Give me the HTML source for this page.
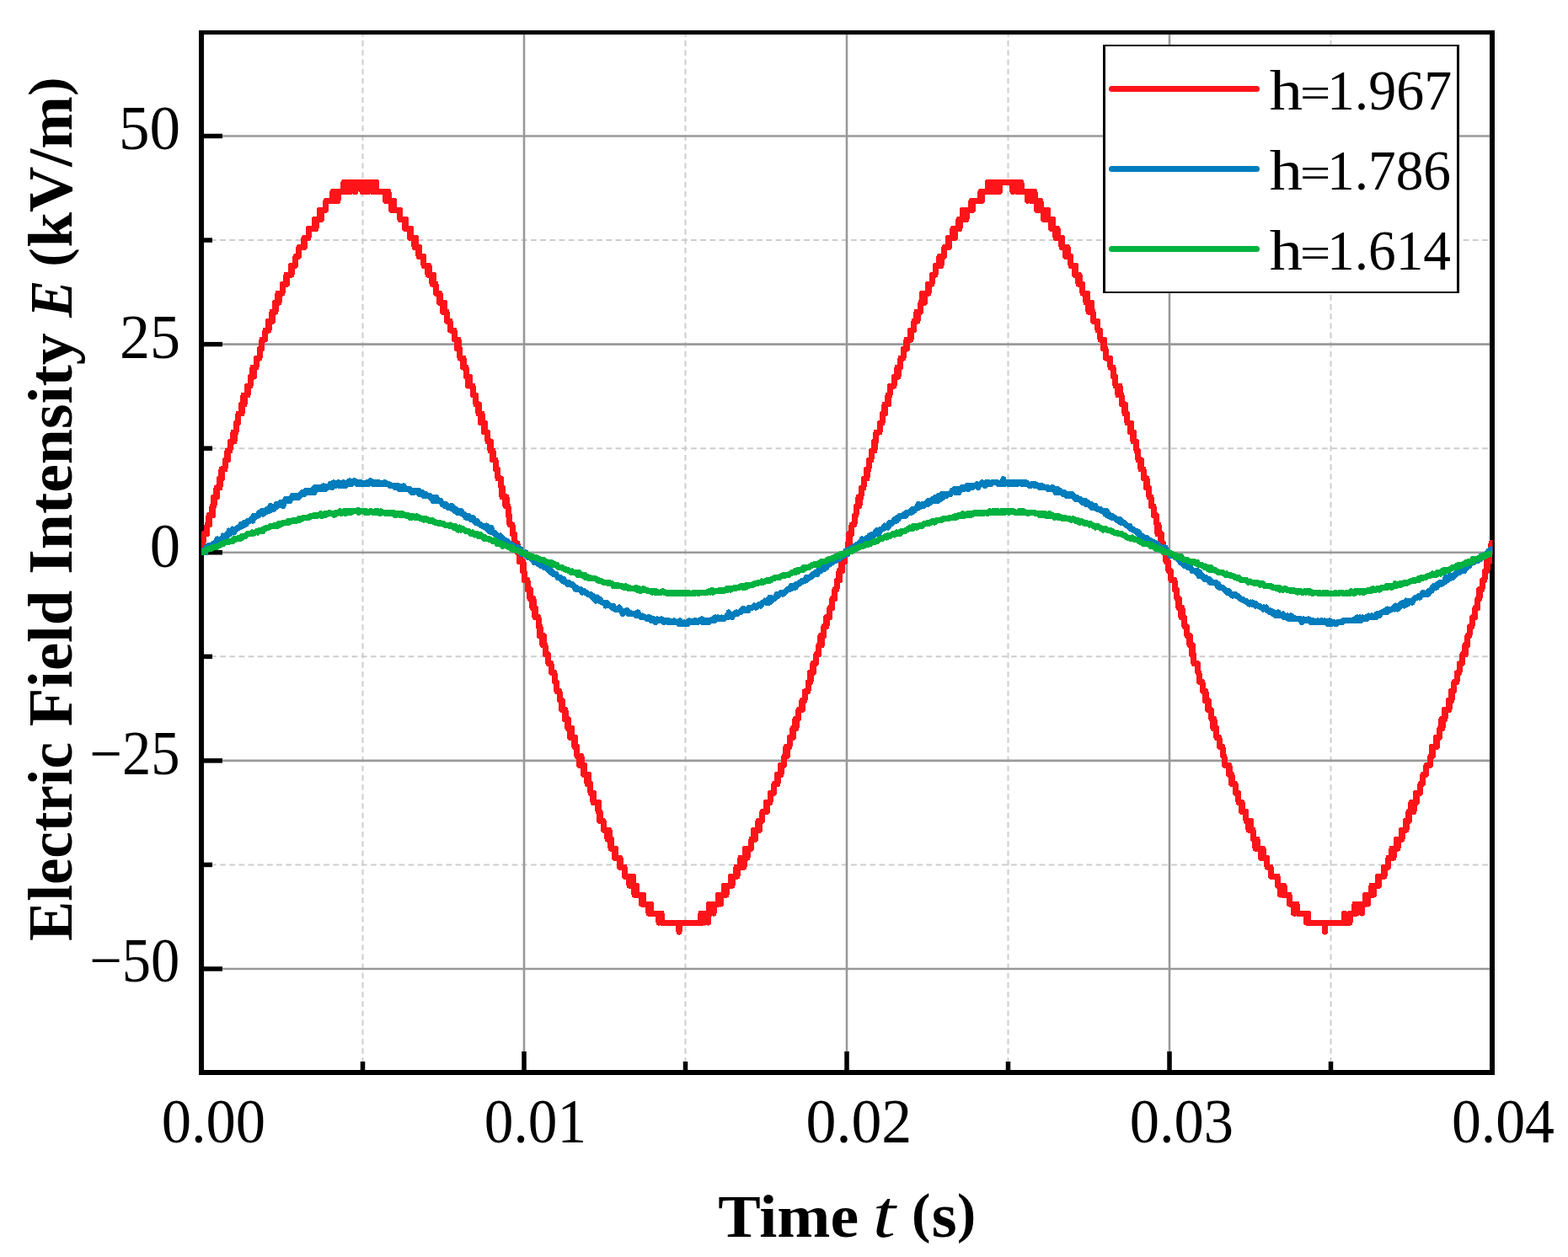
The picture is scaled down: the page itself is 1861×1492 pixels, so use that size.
<!DOCTYPE html><html><head><meta charset="utf-8"><title>Electric Field Intensity vs Time</title><style>html,body{margin:0;padding:0;background:#fff;overflow:hidden}svg{display:block}text{font-family:"Liberation Serif","DejaVu Serif",serif;fill:#000}</style></head><body><svg width="1861" height="1492" viewBox="0 0 1861 1492"><rect x="0" y="0" width="1861" height="1492" fill="#fff"/><g stroke="#cdcdcd" stroke-width="2" stroke-dasharray="6.8 4.378" fill="none"><line x1="430.50" y1="41" x2="430.50" y2="1270" stroke-dashoffset="4.078"/><line x1="813.50" y1="41" x2="813.50" y2="1270" stroke-dashoffset="4.078"/><line x1="1196.50" y1="41" x2="1196.50" y2="1270" stroke-dashoffset="4.078"/><line x1="1579.50" y1="41" x2="1579.50" y2="1270" stroke-dashoffset="4.078"/><line x1="242" y1="285.06" x2="1768" y2="285.06" stroke-dashoffset="3.258"/><line x1="242" y1="532.19" x2="1768" y2="532.19" stroke-dashoffset="3.258"/><line x1="242" y1="779.31" x2="1768" y2="779.31" stroke-dashoffset="3.258"/><line x1="242" y1="1026.44" x2="1768" y2="1026.44" stroke-dashoffset="3.258"/></g><g stroke="#999" stroke-width="2.6" fill="none"><line x1="622.00" y1="41" x2="622.00" y2="1270"/><line x1="1005.00" y1="41" x2="1005.00" y2="1270"/><line x1="1388.00" y1="41" x2="1388.00" y2="1270"/><line x1="242" y1="161.50" x2="1768" y2="161.50"/><line x1="242" y1="408.62" x2="1768" y2="408.62"/><line x1="242" y1="655.75" x2="1768" y2="655.75"/><line x1="242" y1="902.88" x2="1768" y2="902.88"/><line x1="242" y1="1150.00" x2="1768" y2="1150.00"/></g><g fill="#000"><rect x="236" y="36" width="6" height="1240"/><rect x="1768" y="36" width="6" height="1240"/><rect x="236" y="36" width="1538" height="5"/><rect x="236" y="1270" width="1538" height="6"/><rect x="242" y="158.75" width="22" height="5.5"/><rect x="242" y="405.88" width="22" height="5.5"/><rect x="242" y="653.00" width="22" height="5.5"/><rect x="242" y="900.12" width="22" height="5.5"/><rect x="242" y="1147.25" width="22" height="5.5"/><rect x="242" y="282.31" width="10" height="5.5"/><rect x="242" y="529.44" width="10" height="5.5"/><rect x="242" y="776.56" width="10" height="5.5"/><rect x="242" y="1023.69" width="10" height="5.5"/><rect x="619.25" y="1248" width="5.5" height="22"/><rect x="1002.25" y="1248" width="5.5" height="22"/><rect x="1385.25" y="1248" width="5.5" height="22"/><rect x="427.75" y="1260" width="5.5" height="10"/><rect x="810.75" y="1260" width="5.5" height="10"/><rect x="1193.75" y="1260" width="5.5" height="10"/><rect x="1576.75" y="1260" width="5.5" height="10"/></g><defs><clipPath id="pc"><rect x="239.0" y="38.5" width="1532.5" height="1234.5"/></clipPath></defs><g clip-path="url(#pc)" fill="none" stroke-width="7" stroke-linejoin="round" stroke-linecap="butt" shape-rendering="crispEdges"><path d="M237.0,655.8 237.5,655.8 238.0,655.8 238.5,644.8 239.0,644.8 239.5,644.8 240.0,644.8 240.5,644.8 241.0,644.8 241.5,633.8 242.0,633.8 242.5,633.8 243.0,633.8 243.5,633.8 244.0,633.8 244.5,633.8 245.0,633.8 245.5,633.8 246.0,622.8 246.5,622.8 247.0,622.8 247.5,622.8 248.0,611.8 248.5,622.8 249.0,611.8 249.5,611.8 250.0,611.8 250.5,611.8 251.0,611.8 251.5,611.8 252.0,600.8 252.5,611.8 253.0,600.8 253.5,589.9 254.0,600.8 254.5,589.9 255.0,589.9 255.5,589.9 256.0,589.9 256.5,589.9 257.0,578.9 257.5,589.9 258.0,578.9 258.5,578.9 259.0,578.9 259.5,578.9 260.0,578.9 260.5,567.9 261.0,578.9 261.5,567.9 262.0,567.9 262.5,567.9 263.0,556.9 263.5,567.9 264.0,556.9 264.5,556.9 265.0,556.9 265.5,556.9 266.0,556.9 266.5,556.9 267.0,556.9 267.5,545.9 268.0,545.9 268.5,545.9 269.0,545.9 269.5,545.9 270.0,534.9 270.5,545.9 271.0,534.9 271.5,534.9 272.0,534.9 272.5,534.9 273.0,534.9 273.5,524.0 274.0,524.0 274.5,524.0 275.0,524.0 275.5,524.0 276.0,524.0 276.5,524.0 277.0,513.0 277.5,524.0 278.0,524.0 278.5,513.0 279.0,513.0 279.5,513.0 280.0,513.0 280.5,502.0 281.0,502.0 281.5,502.0 282.0,502.0 282.5,502.0 283.0,491.0 283.5,491.0 284.0,491.0 284.5,491.0 285.0,491.0 285.5,491.0 286.0,491.0 286.5,480.0 287.0,491.0 287.5,480.0 288.0,480.0 288.5,480.0 289.0,469.0 289.5,480.0 290.0,480.0 290.5,469.0 291.0,469.0 291.5,469.0 292.0,469.0 292.5,469.0 293.0,469.0 293.5,458.1 294.0,469.0 294.5,458.1 295.0,458.1 295.5,458.1 296.0,458.1 296.5,458.1 297.0,458.1 297.5,447.1 298.0,447.1 298.5,447.1 299.0,447.1 299.5,447.1 300.0,436.1 300.5,436.1 301.0,447.1 301.5,447.1 302.0,436.1 302.5,436.1 303.0,436.1 303.5,436.1 304.0,436.1 304.5,425.1 305.0,425.1 305.5,425.1 306.0,425.1 306.5,425.1 307.0,425.1 307.5,425.1 308.0,425.1 308.5,414.1 309.0,414.1 309.5,414.1 310.0,414.1 310.5,414.1 311.0,403.1 311.5,403.1 312.0,403.1 312.5,403.1 313.0,403.1 313.5,403.1 314.0,403.1 314.5,403.1 315.0,392.1 315.5,392.1 316.0,392.1 316.5,392.1 317.0,392.1 317.5,392.1 318.0,392.1 318.5,381.2 319.0,392.1 319.5,381.2 320.0,381.2 320.5,381.2 321.0,381.2 321.5,381.2 322.0,381.2 322.5,381.2 323.0,370.2 323.5,381.2 324.0,370.2 324.5,370.2 325.0,370.2 325.5,370.2 326.0,370.2 326.5,359.2 327.0,370.2 327.5,359.2 328.0,359.2 328.5,359.2 329.0,359.2 329.5,359.2 330.0,348.2 330.5,359.2 331.0,359.2 331.5,348.2 332.0,348.2 332.5,348.2 333.0,348.2 333.5,348.2 334.0,348.2 334.5,348.2 335.0,348.2 335.5,337.2 336.0,337.2 336.5,337.2 337.0,337.2 337.5,337.2 338.0,337.2 338.5,337.2 339.0,337.2 339.5,337.2 340.0,326.2 340.5,337.2 341.0,326.2 341.5,326.2 342.0,326.2 342.5,326.2 343.0,326.2 343.5,326.2 344.0,326.2 344.5,326.2 345.0,326.2 345.5,315.3 346.0,326.2 346.5,315.3 347.0,315.3 347.5,315.3 348.0,315.3 348.5,315.3 349.0,315.3 349.5,315.3 350.0,315.3 350.5,315.3 351.0,304.3 351.5,304.3 352.0,304.3 352.5,304.3 353.0,304.3 353.5,304.3 354.0,304.3 354.5,304.3 355.0,293.3 355.5,293.3 356.0,293.3 356.5,293.3 357.0,293.3 357.5,293.3 358.0,293.3 358.5,293.3 359.0,293.3 359.5,293.3 360.0,293.3 360.5,293.3 361.0,282.3 361.5,293.3 362.0,282.3 362.5,282.3 363.0,282.3 363.5,282.3 364.0,282.3 364.5,282.3 365.0,282.3 365.5,282.3 366.0,282.3 366.5,271.3 367.0,271.3 367.5,271.3 368.0,271.3 368.5,271.3 369.0,271.3 369.5,271.3 370.0,271.3 370.5,271.3 371.0,271.3 371.5,271.3 372.0,271.3 372.5,271.3 373.0,271.3 373.5,260.4 374.0,271.3 374.5,260.4 375.0,271.3 375.5,260.4 376.0,260.4 376.5,260.4 377.0,260.4 377.5,260.4 378.0,260.4 378.5,260.4 379.0,260.4 379.5,249.4 380.0,249.4 380.5,249.4 381.0,249.4 381.5,260.4 382.0,249.4 382.5,249.4 383.0,249.4 383.5,249.4 384.0,249.4 384.5,249.4 385.0,249.4 385.5,249.4 386.0,249.4 386.5,249.4 387.0,238.4 387.5,238.4 388.0,238.4 388.5,238.4 389.0,238.4 389.5,238.4 390.0,238.4 390.5,238.4 391.0,238.4 391.5,238.4 392.0,238.4 392.5,238.4 393.0,238.4 393.5,238.4 394.0,238.4 394.5,238.4 395.0,227.4 395.5,238.4 396.0,238.4 396.5,238.4 397.0,238.4 397.5,238.4 398.0,227.4 398.5,238.4 399.0,227.4 399.5,238.4 400.0,227.4 400.5,227.4 401.0,238.4 401.5,227.4 402.0,227.4 402.5,227.4 403.0,227.4 403.5,227.4 404.0,227.4 404.5,227.4 405.0,227.4 405.5,227.4 406.0,227.4 406.5,227.4 407.0,227.4 407.5,227.4 408.0,216.4 408.5,227.4 409.0,227.4 409.5,227.4 410.0,227.4 410.5,227.4 411.0,227.4 411.5,227.4 412.0,227.4 412.5,216.4 413.0,216.4 413.5,227.4 414.0,216.4 414.5,216.4 415.0,216.4 415.5,216.4 416.0,227.4 416.5,216.4 417.0,216.4 417.5,216.4 418.0,216.4 418.5,216.4 419.0,216.4 419.5,216.4 420.0,216.4 420.5,227.4 421.0,216.4 421.5,216.4 422.0,227.4 422.5,216.4 423.0,216.4 423.5,216.4 424.0,216.4 424.5,216.4 425.0,216.4 425.5,216.4 426.0,216.4 426.5,216.4 427.0,216.4 427.5,216.4 428.0,216.4 428.5,216.4 429.0,216.4 429.5,216.4 430.0,227.4 430.5,216.4 431.0,216.4 431.5,216.4 432.0,227.4 432.5,216.4 433.0,216.4 433.5,216.4 434.0,216.4 434.5,227.4 435.0,216.4 435.5,216.4 436.0,216.4 436.5,216.4 437.0,227.4 437.5,227.4 438.0,216.4 438.5,216.4 439.0,216.4 439.5,216.4 440.0,216.4 440.5,216.4 441.0,216.4 441.5,227.4 442.0,216.4 442.5,216.4 443.0,227.4 443.5,216.4 444.0,227.4 444.5,227.4 445.0,216.4 445.5,216.4 446.0,227.4 446.5,216.4 447.0,227.4 447.5,227.4 448.0,227.4 448.5,227.4 449.0,227.4 449.5,227.4 450.0,227.4 450.5,227.4 451.0,227.4 451.5,227.4 452.0,227.4 452.5,227.4 453.0,227.4 453.5,227.4 454.0,227.4 454.5,227.4 455.0,227.4 455.5,227.4 456.0,227.4 456.5,227.4 457.0,227.4 457.5,238.4 458.0,238.4 458.5,227.4 459.0,238.4 459.5,238.4 460.0,238.4 460.5,227.4 461.0,227.4 461.5,238.4 462.0,238.4 462.5,238.4 463.0,238.4 463.5,238.4 464.0,238.4 464.5,249.4 465.0,238.4 465.5,238.4 466.0,249.4 466.5,249.4 467.0,238.4 467.5,238.4 468.0,249.4 468.5,249.4 469.0,249.4 469.5,249.4 470.0,249.4 470.5,249.4 471.0,249.4 471.5,249.4 472.0,249.4 472.5,249.4 473.0,249.4 473.5,249.4 474.0,249.4 474.5,249.4 475.0,260.4 475.5,260.4 476.0,260.4 476.5,260.4 477.0,260.4 477.5,260.4 478.0,260.4 478.5,260.4 479.0,260.4 479.5,260.4 480.0,260.4 480.5,271.3 481.0,271.3 481.5,260.4 482.0,271.3 482.5,271.3 483.0,271.3 483.5,271.3 484.0,271.3 484.5,271.3 485.0,271.3 485.5,271.3 486.0,271.3 486.5,282.3 487.0,271.3 487.5,271.3 488.0,282.3 488.5,282.3 489.0,282.3 489.5,282.3 490.0,282.3 490.5,282.3 491.0,282.3 491.5,282.3 492.0,293.3 492.5,282.3 493.0,282.3 493.5,282.3 494.0,293.3 494.5,293.3 495.0,293.3 495.5,293.3 496.0,293.3 496.5,293.3 497.0,304.3 497.5,293.3 498.0,304.3 498.5,304.3 499.0,304.3 499.5,304.3 500.0,304.3 500.5,304.3 501.0,304.3 501.5,304.3 502.0,304.3 502.5,304.3 503.0,315.3 503.5,315.3 504.0,315.3 504.5,315.3 505.0,315.3 505.5,315.3 506.0,315.3 506.5,315.3 507.0,315.3 507.5,315.3 508.0,326.2 508.5,326.2 509.0,315.3 509.5,326.2 510.0,326.2 510.5,326.2 511.0,326.2 511.5,326.2 512.0,326.2 512.5,326.2 513.0,337.2 513.5,337.2 514.0,337.2 514.5,326.2 515.0,337.2 515.5,337.2 516.0,337.2 516.5,337.2 517.0,337.2 517.5,348.2 518.0,348.2 518.5,348.2 519.0,348.2 519.5,348.2 520.0,348.2 520.5,348.2 521.0,348.2 521.5,359.2 522.0,348.2 522.5,359.2 523.0,359.2 523.5,359.2 524.0,359.2 524.5,359.2 525.0,359.2 525.5,370.2 526.0,370.2 526.5,359.2 527.0,370.2 527.5,359.2 528.0,370.2 528.5,370.2 529.0,370.2 529.5,370.2 530.0,370.2 530.5,381.2 531.0,381.2 531.5,381.2 532.0,381.2 532.5,381.2 533.0,381.2 533.5,381.2 534.0,381.2 534.5,392.1 535.0,392.1 535.5,392.1 536.0,392.1 536.5,392.1 537.0,392.1 537.5,392.1 538.0,392.1 538.5,392.1 539.0,392.1 539.5,403.1 540.0,403.1 540.5,403.1 541.0,403.1 541.5,403.1 542.0,403.1 542.5,414.1 543.0,414.1 543.5,414.1 544.0,403.1 544.5,414.1 545.0,414.1 545.5,414.1 546.0,425.1 546.5,425.1 547.0,425.1 547.5,425.1 548.0,425.1 548.5,425.1 549.0,425.1 549.5,436.1 550.0,425.1 550.5,436.1 551.0,436.1 551.5,436.1 552.0,436.1 552.5,436.1 553.0,436.1 553.5,447.1 554.0,447.1 554.5,447.1 555.0,447.1 555.5,458.1 556.0,447.1 556.5,447.1 557.0,447.1 557.5,447.1 558.0,458.1 558.5,458.1 559.0,458.1 559.5,458.1 560.0,458.1 560.5,458.1 561.0,458.1 561.5,469.0 562.0,469.0 562.5,469.0 563.0,469.0 563.5,469.0 564.0,469.0 564.5,469.0 565.0,480.0 565.5,480.0 566.0,480.0 566.5,480.0 567.0,480.0 567.5,480.0 568.0,491.0 568.5,480.0 569.0,491.0 569.5,491.0 570.0,491.0 570.5,502.0 571.0,491.0 571.5,502.0 572.0,491.0 572.5,502.0 573.0,502.0 573.5,502.0 574.0,502.0 574.5,513.0 575.0,502.0 575.5,502.0 576.0,513.0 576.5,513.0 577.0,513.0 577.5,513.0 578.0,513.0 578.5,513.0 579.0,524.0 579.5,524.0 580.0,524.0 580.5,524.0 581.0,524.0 581.5,524.0 582.0,534.9 582.5,524.0 583.0,534.9 583.5,534.9 584.0,534.9 584.5,545.9 585.0,534.9 585.5,545.9 586.0,545.9 586.5,545.9 587.0,545.9 587.5,545.9 588.0,545.9 588.5,556.9 589.0,556.9 589.5,556.9 590.0,556.9 590.5,556.9 591.0,567.9 591.5,567.9 592.0,567.9 592.5,567.9 593.0,567.9 593.5,567.9 594.0,567.9 594.5,567.9 595.0,578.9 595.5,578.9 596.0,589.9 596.5,578.9 597.0,589.9 597.5,589.9 598.0,589.9 598.5,589.9 599.0,589.9 599.5,589.9 600.0,600.8 600.5,600.8 601.0,589.9 601.5,600.8 602.0,600.8 602.5,600.8 603.0,600.8 603.5,611.8 604.0,611.8 604.5,611.8 605.0,622.8 605.5,622.8 606.0,622.8 606.5,622.8 607.0,622.8 607.5,622.8 608.0,622.8 608.5,633.8 609.0,633.8 609.5,633.8 610.0,633.8 610.5,633.8 611.0,644.8 611.5,644.8 612.0,644.8 612.5,644.8 613.0,644.8 613.5,644.8 614.0,644.8 614.5,655.8 615.0,655.8 615.5,655.8 616.0,655.8 616.5,666.7 617.0,655.8 617.5,655.8 618.0,666.7 618.5,666.7 619.0,666.7 619.5,666.7 620.0,666.7 620.5,677.7 621.0,666.7 621.5,677.7 622.0,677.7 622.5,688.7 623.0,688.7 623.5,688.7 624.0,688.7 624.5,688.7 625.0,688.7 625.5,688.7 626.0,688.7 626.5,699.7 627.0,699.7 627.5,699.7 628.0,699.7 628.5,699.7 629.0,710.7 629.5,699.7 630.0,710.7 630.5,710.7 631.0,710.7 631.5,710.7 632.0,721.6 632.5,721.6 633.0,710.7 633.5,721.6 634.0,721.6 634.5,721.6 635.0,732.6 635.5,721.6 636.0,732.6 636.5,732.6 637.0,732.6 637.5,732.6 638.0,732.6 638.5,732.6 639.0,732.6 639.5,743.6 640.0,743.6 640.5,754.6 641.0,743.6 641.5,754.6 642.0,754.6 642.5,754.6 643.0,754.6 643.5,754.6 644.0,765.6 644.5,754.6 645.0,765.6 645.5,754.6 646.0,765.6 646.5,765.6 647.0,765.6 647.5,776.6 648.0,776.6 648.5,776.6 649.0,776.6 649.5,776.6 650.0,776.6 650.5,776.6 651.0,787.5 651.5,787.5 652.0,787.5 652.5,787.5 653.0,787.5 653.5,787.5 654.0,787.5 654.5,798.5 655.0,798.5 655.5,798.5 656.0,798.5 656.5,798.5 657.0,798.5 657.5,798.5 658.0,798.5 658.5,809.5 659.0,809.5 659.5,809.5 660.0,809.5 660.5,809.5 661.0,820.5 661.5,820.5 662.0,820.5 662.5,820.5 663.0,820.5 663.5,820.5 664.0,820.5 664.5,831.5 665.0,831.5 665.5,831.5 666.0,831.5 666.5,842.5 667.0,842.5 667.5,831.5 668.0,842.5 668.5,842.5 669.0,842.5 669.5,842.5 670.0,842.5 670.5,853.5 671.0,842.5 671.5,853.5 672.0,853.5 672.5,853.5 673.0,853.5 673.5,853.5 674.0,864.4 674.5,853.5 675.0,864.4 675.5,864.4 676.0,864.4 676.5,875.4 677.0,864.4 677.5,864.4 678.0,875.4 678.5,864.4 679.0,875.4 679.5,875.4 680.0,875.4 680.5,875.4 681.0,875.4 681.5,875.4 682.0,886.4 682.5,875.4 683.0,886.4 683.5,886.4 684.0,886.4 684.5,886.4 685.0,897.4 685.5,897.4 686.0,897.4 686.5,897.4 687.0,897.4 687.5,908.4 688.0,897.4 688.5,897.4 689.0,908.4 689.5,897.4 690.0,897.4 690.5,908.4 691.0,908.4 691.5,908.4 692.0,908.4 692.5,919.4 693.0,919.4 693.5,908.4 694.0,919.4 694.5,919.4 695.0,919.4 695.5,919.4 696.0,919.4 696.5,919.4 697.0,930.3 697.5,930.3 698.0,930.3 698.5,919.4 699.0,930.3 699.5,930.3 700.0,930.3 700.5,930.3 701.0,941.3 701.5,941.3 702.0,941.3 702.5,941.3 703.0,941.3 703.5,941.3 704.0,952.3 704.5,941.3 705.0,952.3 705.5,952.3 706.0,952.3 706.5,952.3 707.0,952.3 707.5,952.3 708.0,952.3 708.5,952.3 709.0,952.3 709.5,952.3 710.0,963.3 710.5,952.3 711.0,963.3 711.5,974.3 712.0,963.3 712.5,974.3 713.0,974.3 713.5,974.3 714.0,974.3 714.5,974.3 715.0,974.3 715.5,974.3 716.0,974.3 716.5,985.2 717.0,985.2 717.5,985.2 718.0,985.2 718.5,985.2 719.0,985.2 719.5,985.2 720.0,985.2 720.5,985.2 721.0,996.2 721.5,985.2 722.0,996.2 722.5,996.2 723.0,985.2 723.5,996.2 724.0,996.2 724.5,996.2 725.0,1007.2 725.5,996.2 726.0,1007.2 726.5,1007.2 727.0,1007.2 727.5,1007.2 728.0,1007.2 728.5,1007.2 729.0,1007.2 729.5,1018.2 730.0,1018.2 730.5,1007.2 731.0,1018.2 731.5,1018.2 732.0,1018.2 732.5,1018.2 733.0,1018.2 733.5,1018.2 734.0,1018.2 734.5,1018.2 735.0,1018.2 735.5,1029.2 736.0,1018.2 736.5,1029.2 737.0,1029.2 737.5,1029.2 738.0,1029.2 738.5,1029.2 739.0,1029.2 739.5,1029.2 740.0,1029.2 740.5,1029.2 741.0,1029.2 741.5,1040.2 742.0,1040.2 742.5,1040.2 743.0,1040.2 743.5,1040.2 744.0,1040.2 744.5,1040.2 745.0,1040.2 745.5,1040.2 746.0,1040.2 746.5,1040.2 747.0,1051.2 747.5,1040.2 748.0,1051.2 748.5,1040.2 749.0,1040.2 749.5,1051.2 750.0,1051.2 750.5,1051.2 751.0,1051.2 751.5,1040.2 752.0,1051.2 752.5,1051.2 753.0,1062.1 753.5,1051.2 754.0,1062.1 754.5,1051.2 755.0,1062.1 755.5,1051.2 756.0,1062.1 756.5,1062.1 757.0,1062.1 757.5,1062.1 758.0,1062.1 758.5,1062.1 759.0,1062.1 759.5,1062.1 760.0,1062.1 760.5,1062.1 761.0,1062.1 761.5,1073.1 762.0,1062.1 762.5,1062.1 763.0,1073.1 763.5,1062.1 764.0,1073.1 764.5,1073.1 765.0,1073.1 765.5,1073.1 766.0,1073.1 766.5,1073.1 767.0,1073.1 767.5,1073.1 768.0,1073.1 768.5,1073.1 769.0,1073.1 769.5,1073.1 770.0,1084.1 770.5,1084.1 771.0,1084.1 771.5,1084.1 772.0,1073.1 772.5,1073.1 773.0,1084.1 773.5,1084.1 774.0,1084.1 774.5,1084.1 775.0,1084.1 775.5,1084.1 776.0,1084.1 776.5,1084.1 777.0,1084.1 777.5,1084.1 778.0,1084.1 778.5,1084.1 779.0,1084.1 779.5,1084.1 780.0,1084.1 780.5,1084.1 781.0,1084.1 781.5,1084.1 782.0,1095.1 782.5,1084.1 783.0,1084.1 783.5,1084.1 784.0,1084.1 784.5,1095.1 785.0,1084.1 785.5,1095.1 786.0,1095.1 786.5,1095.1 787.0,1095.1 787.5,1095.1 788.0,1095.1 788.5,1095.1 789.0,1095.1 789.5,1095.1 790.0,1095.1 790.5,1095.1 791.0,1095.1 791.5,1095.1 792.0,1095.1 792.5,1095.1 793.0,1095.1 793.5,1095.1 794.0,1095.1 794.5,1095.1 795.0,1095.1 795.5,1095.1 796.0,1095.1 796.5,1095.1 797.0,1095.1 797.5,1095.1 798.0,1095.1 798.5,1095.1 799.0,1095.1 799.5,1095.1 800.0,1095.1 800.5,1095.1 801.0,1095.1 801.5,1095.1 802.0,1095.1 802.5,1095.1 803.0,1095.1 803.5,1095.1 804.0,1095.1 804.5,1095.1 805.0,1095.1 805.5,1095.1 806.0,1106.1 806.5,1095.1 807.0,1095.1 807.5,1095.1 808.0,1095.1 808.5,1095.1 809.0,1095.1 809.5,1095.1 810.0,1095.1 810.5,1095.1 811.0,1095.1 811.5,1095.1 812.0,1095.1 812.5,1095.1 813.0,1095.1 813.5,1095.1 814.0,1095.1 814.5,1095.1 815.0,1095.1 815.5,1095.1 816.0,1095.1 816.5,1095.1 817.0,1095.1 817.5,1095.1 818.0,1095.1 818.5,1095.1 819.0,1095.1 819.5,1095.1 820.0,1095.1 820.5,1095.1 821.0,1095.1 821.5,1095.1 822.0,1095.1 822.5,1095.1 823.0,1095.1 823.5,1095.1 824.0,1095.1 824.5,1095.1 825.0,1095.1 825.5,1095.1 826.0,1095.1 826.5,1095.1 827.0,1095.1 827.5,1095.1 828.0,1095.1 828.5,1095.1 829.0,1095.1 829.5,1095.1 830.0,1095.1 830.5,1095.1 831.0,1095.1 831.5,1095.1 832.0,1084.1 832.5,1084.1 833.0,1095.1 833.5,1084.1 834.0,1095.1 834.5,1095.1 835.0,1084.1 835.5,1084.1 836.0,1084.1 836.5,1095.1 837.0,1084.1 837.5,1084.1 838.0,1084.1 838.5,1084.1 839.0,1084.1 839.5,1084.1 840.0,1084.1 840.5,1095.1 841.0,1084.1 841.5,1073.1 842.0,1084.1 842.5,1084.1 843.0,1084.1 843.5,1084.1 844.0,1084.1 844.5,1084.1 845.0,1073.1 845.5,1073.1 846.0,1073.1 846.5,1084.1 847.0,1084.1 847.5,1073.1 848.0,1073.1 848.5,1073.1 849.0,1073.1 849.5,1073.1 850.0,1073.1 850.5,1073.1 851.0,1073.1 851.5,1073.1 852.0,1073.1 852.5,1062.1 853.0,1062.1 853.5,1073.1 854.0,1062.1 854.5,1062.1 855.0,1062.1 855.5,1073.1 856.0,1062.1 856.5,1062.1 857.0,1062.1 857.5,1062.1 858.0,1062.1 858.5,1062.1 859.0,1062.1 859.5,1051.2 860.0,1062.1 860.5,1062.1 861.0,1051.2 861.5,1051.2 862.0,1062.1 862.5,1051.2 863.0,1051.2 863.5,1051.2 864.0,1051.2 864.5,1051.2 865.0,1051.2 865.5,1051.2 866.0,1051.2 866.5,1051.2 867.0,1051.2 867.5,1040.2 868.0,1051.2 868.5,1040.2 869.0,1051.2 869.5,1040.2 870.0,1040.2 870.5,1040.2 871.0,1040.2 871.5,1040.2 872.0,1040.2 872.5,1040.2 873.0,1040.2 873.5,1040.2 874.0,1029.2 874.5,1040.2 875.0,1040.2 875.5,1029.2 876.0,1029.2 876.5,1029.2 877.0,1029.2 877.5,1029.2 878.0,1029.2 878.5,1029.2 879.0,1018.2 879.5,1029.2 880.0,1029.2 880.5,1029.2 881.0,1018.2 881.5,1018.2 882.0,1018.2 882.5,1018.2 883.0,1029.2 883.5,1018.2 884.0,1018.2 884.5,1007.2 885.0,1007.2 885.5,1007.2 886.0,1018.2 886.5,1007.2 887.0,1018.2 887.5,1007.2 888.0,1007.2 888.5,1007.2 889.0,1007.2 889.5,1007.2 890.0,1007.2 890.5,1007.2 891.0,1007.2 891.5,1007.2 892.0,996.2 892.5,996.2 893.0,996.2 893.5,996.2 894.0,996.2 894.5,985.2 895.0,996.2 895.5,996.2 896.0,985.2 896.5,996.2 897.0,985.2 897.5,985.2 898.0,985.2 898.5,985.2 899.0,985.2 899.5,985.2 900.0,974.3 900.5,974.3 901.0,985.2 901.5,985.2 902.0,974.3 902.5,974.3 903.0,974.3 903.5,974.3 904.0,974.3 904.5,974.3 905.0,963.3 905.5,963.3 906.0,963.3 906.5,963.3 907.0,963.3 907.5,963.3 908.0,963.3 908.5,963.3 909.0,963.3 909.5,952.3 910.0,963.3 910.5,963.3 911.0,952.3 911.5,952.3 912.0,952.3 912.5,952.3 913.0,952.3 913.5,952.3 914.0,952.3 914.5,941.3 915.0,941.3 915.5,941.3 916.0,941.3 916.5,941.3 917.0,941.3 917.5,941.3 918.0,941.3 918.5,941.3 919.0,930.3 919.5,930.3 920.0,930.3 920.5,930.3 921.0,930.3 921.5,930.3 922.0,930.3 922.5,919.4 923.0,930.3 923.5,919.4 924.0,919.4 924.5,919.4 925.0,919.4 925.5,919.4 926.0,919.4 926.5,908.4 927.0,919.4 927.5,908.4 928.0,908.4 928.5,908.4 929.0,908.4 929.5,908.4 930.0,908.4 930.5,908.4 931.0,897.4 931.5,897.4 932.0,897.4 932.5,897.4 933.0,886.4 933.5,886.4 934.0,897.4 934.5,897.4 935.0,886.4 935.5,886.4 936.0,886.4 936.5,886.4 937.0,886.4 937.5,875.4 938.0,875.4 938.5,875.4 939.0,875.4 939.5,875.4 940.0,875.4 940.5,875.4 941.0,864.4 941.5,875.4 942.0,864.4 942.5,864.4 943.0,864.4 943.5,864.4 944.0,853.5 944.5,864.4 945.0,864.4 945.5,853.5 946.0,853.5 946.5,853.5 947.0,853.5 947.5,853.5 948.0,842.5 948.5,842.5 949.0,842.5 949.5,842.5 950.0,842.5 950.5,842.5 951.0,842.5 951.5,842.5 952.0,831.5 952.5,842.5 953.0,831.5 953.5,831.5 954.0,831.5 954.5,831.5 955.0,831.5 955.5,820.5 956.0,820.5 956.5,820.5 957.0,820.5 957.5,820.5 958.0,820.5 958.5,820.5 959.0,820.5 959.5,809.5 960.0,809.5 960.5,809.5 961.0,809.5 961.5,798.5 962.0,809.5 962.5,798.5 963.0,798.5 963.5,798.5 964.0,798.5 964.5,798.5 965.0,787.5 965.5,798.5 966.0,787.5 966.5,787.5 967.0,787.5 967.5,787.5 968.0,787.5 968.5,787.5 969.0,776.6 969.5,776.6 970.0,776.6 970.5,776.6 971.0,776.6 971.5,776.6 972.0,765.6 972.5,765.6 973.0,765.6 973.5,765.6 974.0,754.6 974.5,765.6 975.0,754.6 975.5,765.6 976.0,754.6 976.5,754.6 977.0,754.6 977.5,754.6 978.0,743.6 978.5,743.6 979.0,743.6 979.5,743.6 980.0,743.6 980.5,732.6 981.0,743.6 981.5,732.6 982.0,732.6 982.5,732.6 983.0,732.6 983.5,732.6 984.0,732.6 984.5,732.6 985.0,721.6 985.5,721.6 986.0,721.6 986.5,721.6 987.0,721.6 987.5,721.6 988.0,710.7 988.5,710.7 989.0,710.7 989.5,710.7 990.0,710.7 990.5,710.7 991.0,699.7 991.5,699.7 992.0,699.7 992.5,699.7 993.0,699.7 993.5,688.7 994.0,688.7 994.5,688.7 995.0,688.7 995.5,688.7 996.0,677.7 996.5,688.7 997.0,677.7 997.5,677.7 998.0,677.7 998.5,677.7 999.0,666.7 999.5,677.7 1000.0,666.7 1000.5,666.7 1001.0,666.7 1001.5,666.7 1002.0,666.7 1002.5,666.7 1003.0,655.8 1003.5,655.8 1004.0,655.8 1004.5,655.8 1005.0,655.8 1005.5,655.8 1006.0,655.8 1006.5,644.8 1007.0,644.8 1007.5,633.8 1008.0,633.8 1008.5,644.8 1009.0,633.8 1009.5,633.8 1010.0,633.8 1010.5,633.8 1011.0,622.8 1011.5,622.8 1012.0,622.8 1012.5,622.8 1013.0,622.8 1013.5,622.8 1014.0,622.8 1014.5,611.8 1015.0,611.8 1015.5,611.8 1016.0,611.8 1016.5,600.8 1017.0,600.8 1017.5,600.8 1018.0,600.8 1018.5,600.8 1019.0,589.9 1019.5,589.9 1020.0,600.8 1020.5,589.9 1021.0,589.9 1021.5,589.9 1022.0,589.9 1022.5,578.9 1023.0,578.9 1023.5,578.9 1024.0,578.9 1024.5,578.9 1025.0,578.9 1025.5,567.9 1026.0,567.9 1026.5,567.9 1027.0,567.9 1027.5,567.9 1028.0,567.9 1028.5,556.9 1029.0,567.9 1029.5,556.9 1030.0,556.9 1030.5,556.9 1031.0,556.9 1031.5,545.9 1032.0,545.9 1032.5,545.9 1033.0,545.9 1033.5,545.9 1034.0,545.9 1034.5,534.9 1035.0,534.9 1035.5,534.9 1036.0,534.9 1036.5,534.9 1037.0,534.9 1037.5,524.0 1038.0,534.9 1038.5,524.0 1039.0,524.0 1039.5,524.0 1040.0,513.0 1040.5,513.0 1041.0,513.0 1041.5,513.0 1042.0,513.0 1042.5,513.0 1043.0,513.0 1043.5,513.0 1044.0,513.0 1044.5,502.0 1045.0,502.0 1045.5,502.0 1046.0,502.0 1046.5,502.0 1047.0,502.0 1047.5,491.0 1048.0,491.0 1048.5,491.0 1049.0,491.0 1049.5,491.0 1050.0,480.0 1050.5,491.0 1051.0,480.0 1051.5,480.0 1052.0,480.0 1052.5,480.0 1053.0,480.0 1053.5,480.0 1054.0,469.0 1054.5,480.0 1055.0,469.0 1055.5,469.0 1056.0,469.0 1056.5,458.1 1057.0,458.1 1057.5,458.1 1058.0,458.1 1058.5,458.1 1059.0,458.1 1059.5,458.1 1060.0,458.1 1060.5,458.1 1061.0,458.1 1061.5,447.1 1062.0,447.1 1062.5,447.1 1063.0,447.1 1063.5,447.1 1064.0,447.1 1064.5,447.1 1065.0,436.1 1065.5,447.1 1066.0,447.1 1066.5,436.1 1067.0,436.1 1067.5,436.1 1068.0,436.1 1068.5,436.1 1069.0,425.1 1069.5,425.1 1070.0,425.1 1070.5,425.1 1071.0,425.1 1071.5,425.1 1072.0,425.1 1072.5,414.1 1073.0,414.1 1073.5,414.1 1074.0,414.1 1074.5,414.1 1075.0,414.1 1075.5,414.1 1076.0,403.1 1076.5,414.1 1077.0,403.1 1077.5,403.1 1078.0,403.1 1078.5,403.1 1079.0,403.1 1079.5,403.1 1080.0,403.1 1080.5,392.1 1081.0,403.1 1081.5,392.1 1082.0,392.1 1082.5,392.1 1083.0,392.1 1083.5,392.1 1084.0,392.1 1084.5,392.1 1085.0,381.2 1085.5,381.2 1086.0,381.2 1086.5,381.2 1087.0,381.2 1087.5,381.2 1088.0,370.2 1088.5,370.2 1089.0,381.2 1089.5,370.2 1090.0,370.2 1090.5,370.2 1091.0,370.2 1091.5,370.2 1092.0,370.2 1092.5,370.2 1093.0,359.2 1093.5,359.2 1094.0,359.2 1094.5,348.2 1095.0,359.2 1095.5,359.2 1096.0,359.2 1096.5,348.2 1097.0,348.2 1097.5,359.2 1098.0,348.2 1098.5,348.2 1099.0,348.2 1099.5,348.2 1100.0,348.2 1100.5,348.2 1101.0,348.2 1101.5,337.2 1102.0,348.2 1102.5,337.2 1103.0,337.2 1103.5,337.2 1104.0,337.2 1104.5,337.2 1105.0,337.2 1105.5,337.2 1106.0,337.2 1106.5,326.2 1107.0,326.2 1107.5,326.2 1108.0,326.2 1108.5,326.2 1109.0,326.2 1109.5,326.2 1110.0,326.2 1110.5,315.3 1111.0,315.3 1111.5,315.3 1112.0,315.3 1112.5,315.3 1113.0,315.3 1113.5,315.3 1114.0,315.3 1114.5,315.3 1115.0,304.3 1115.5,315.3 1116.0,315.3 1116.5,304.3 1117.0,315.3 1117.5,304.3 1118.0,304.3 1118.5,304.3 1119.0,304.3 1119.5,304.3 1120.0,304.3 1120.5,304.3 1121.0,293.3 1121.5,293.3 1122.0,293.3 1122.5,293.3 1123.0,293.3 1123.5,293.3 1124.0,293.3 1124.5,293.3 1125.0,293.3 1125.5,282.3 1126.0,293.3 1126.5,293.3 1127.0,282.3 1127.5,282.3 1128.0,282.3 1128.5,282.3 1129.0,282.3 1129.5,282.3 1130.0,282.3 1130.5,282.3 1131.0,271.3 1131.5,282.3 1132.0,282.3 1132.5,271.3 1133.0,271.3 1133.5,282.3 1134.0,271.3 1134.5,271.3 1135.0,271.3 1135.5,271.3 1136.0,271.3 1136.5,271.3 1137.0,271.3 1137.5,271.3 1138.0,260.4 1138.5,260.4 1139.0,271.3 1139.5,260.4 1140.0,260.4 1140.5,260.4 1141.0,260.4 1141.5,260.4 1142.0,260.4 1142.5,249.4 1143.0,249.4 1143.5,260.4 1144.0,260.4 1144.5,260.4 1145.0,249.4 1145.5,249.4 1146.0,249.4 1146.5,249.4 1147.0,260.4 1147.5,249.4 1148.0,249.4 1148.5,249.4 1149.0,249.4 1149.5,249.4 1150.0,249.4 1150.5,249.4 1151.0,249.4 1151.5,249.4 1152.0,249.4 1152.5,249.4 1153.0,238.4 1153.5,238.4 1154.0,238.4 1154.5,249.4 1155.0,238.4 1155.5,238.4 1156.0,238.4 1156.5,238.4 1157.0,238.4 1157.5,238.4 1158.0,238.4 1158.5,238.4 1159.0,238.4 1159.5,238.4 1160.0,238.4 1160.5,238.4 1161.0,238.4 1161.5,238.4 1162.0,238.4 1162.5,238.4 1163.0,238.4 1163.5,238.4 1164.0,227.4 1164.5,227.4 1165.0,227.4 1165.5,238.4 1166.0,227.4 1166.5,227.4 1167.0,227.4 1167.5,227.4 1168.0,227.4 1168.5,227.4 1169.0,227.4 1169.5,227.4 1170.0,227.4 1170.5,227.4 1171.0,227.4 1171.5,227.4 1172.0,227.4 1172.5,216.4 1173.0,227.4 1173.5,227.4 1174.0,216.4 1174.5,216.4 1175.0,216.4 1175.5,227.4 1176.0,227.4 1176.5,227.4 1177.0,227.4 1177.5,216.4 1178.0,227.4 1178.5,227.4 1179.0,216.4 1179.5,227.4 1180.0,216.4 1180.5,227.4 1181.0,216.4 1181.5,216.4 1182.0,216.4 1182.5,216.4 1183.0,216.4 1183.5,216.4 1184.0,227.4 1184.5,216.4 1185.0,216.4 1185.5,216.4 1186.0,216.4 1186.5,227.4 1187.0,216.4 1187.5,216.4 1188.0,216.4 1188.5,216.4 1189.0,216.4 1189.5,216.4 1190.0,216.4 1190.5,216.4 1191.0,216.4 1191.5,216.4 1192.0,216.4 1192.5,216.4 1193.0,216.4 1193.5,216.4 1194.0,216.4 1194.5,216.4 1195.0,216.4 1195.5,216.4 1196.0,216.4 1196.5,216.4 1197.0,216.4 1197.5,216.4 1198.0,216.4 1198.5,216.4 1199.0,216.4 1199.5,216.4 1200.0,216.4 1200.5,216.4 1201.0,216.4 1201.5,216.4 1202.0,227.4 1202.5,216.4 1203.0,216.4 1203.5,216.4 1204.0,216.4 1204.5,216.4 1205.0,216.4 1205.5,216.4 1206.0,216.4 1206.5,216.4 1207.0,227.4 1207.5,227.4 1208.0,227.4 1208.5,216.4 1209.0,216.4 1209.5,216.4 1210.0,216.4 1210.5,227.4 1211.0,216.4 1211.5,227.4 1212.0,216.4 1212.5,227.4 1213.0,227.4 1213.5,227.4 1214.0,227.4 1214.5,227.4 1215.0,227.4 1215.5,227.4 1216.0,227.4 1216.5,227.4 1217.0,227.4 1217.5,227.4 1218.0,227.4 1218.5,227.4 1219.0,227.4 1219.5,238.4 1220.0,227.4 1220.5,227.4 1221.0,227.4 1221.5,227.4 1222.0,227.4 1222.5,227.4 1223.0,227.4 1223.5,238.4 1224.0,238.4 1224.5,227.4 1225.0,227.4 1225.5,238.4 1226.0,238.4 1226.5,238.4 1227.0,227.4 1227.5,238.4 1228.0,227.4 1228.5,238.4 1229.0,238.4 1229.5,238.4 1230.0,238.4 1230.5,249.4 1231.0,249.4 1231.5,238.4 1232.0,238.4 1232.5,238.4 1233.0,238.4 1233.5,238.4 1234.0,249.4 1234.5,249.4 1235.0,238.4 1235.5,249.4 1236.0,249.4 1236.5,249.4 1237.0,249.4 1237.5,249.4 1238.0,249.4 1238.5,260.4 1239.0,249.4 1239.5,260.4 1240.0,249.4 1240.5,260.4 1241.0,260.4 1241.5,249.4 1242.0,249.4 1242.5,249.4 1243.0,260.4 1243.5,249.4 1244.0,260.4 1244.5,260.4 1245.0,260.4 1245.5,260.4 1246.0,260.4 1246.5,260.4 1247.0,260.4 1247.5,271.3 1248.0,271.3 1248.5,271.3 1249.0,271.3 1249.5,260.4 1250.0,271.3 1250.5,271.3 1251.0,271.3 1251.5,271.3 1252.0,271.3 1252.5,271.3 1253.0,282.3 1253.5,271.3 1254.0,282.3 1254.5,271.3 1255.0,271.3 1255.5,282.3 1256.0,282.3 1256.5,282.3 1257.0,282.3 1257.5,282.3 1258.0,282.3 1258.5,282.3 1259.0,282.3 1259.5,282.3 1260.0,293.3 1260.5,282.3 1261.0,293.3 1261.5,293.3 1262.0,293.3 1262.5,293.3 1263.0,293.3 1263.5,293.3 1264.0,293.3 1264.5,304.3 1265.0,293.3 1265.5,304.3 1266.0,304.3 1266.5,304.3 1267.0,293.3 1267.5,304.3 1268.0,304.3 1268.5,304.3 1269.0,304.3 1269.5,304.3 1270.0,304.3 1270.5,304.3 1271.0,315.3 1271.5,315.3 1272.0,315.3 1272.5,315.3 1273.0,315.3 1273.5,315.3 1274.0,315.3 1274.5,315.3 1275.0,315.3 1275.5,326.2 1276.0,326.2 1276.5,315.3 1277.0,326.2 1277.5,326.2 1278.0,326.2 1278.5,326.2 1279.0,326.2 1279.5,326.2 1280.0,337.2 1280.5,337.2 1281.0,326.2 1281.5,337.2 1282.0,337.2 1282.5,337.2 1283.0,337.2 1283.5,337.2 1284.0,337.2 1284.5,337.2 1285.0,348.2 1285.5,348.2 1286.0,348.2 1286.5,348.2 1287.0,348.2 1287.5,348.2 1288.0,348.2 1288.5,348.2 1289.0,359.2 1289.5,359.2 1290.0,359.2 1290.5,348.2 1291.0,359.2 1291.5,359.2 1292.0,370.2 1292.5,359.2 1293.0,359.2 1293.5,359.2 1294.0,370.2 1294.5,370.2 1295.0,370.2 1295.5,359.2 1296.0,370.2 1296.5,370.2 1297.0,370.2 1297.5,381.2 1298.0,381.2 1298.5,381.2 1299.0,381.2 1299.5,381.2 1300.0,381.2 1300.5,381.2 1301.0,381.2 1301.5,381.2 1302.0,381.2 1302.5,381.2 1303.0,392.1 1303.5,392.1 1304.0,392.1 1304.5,392.1 1305.0,392.1 1305.5,392.1 1306.0,403.1 1306.5,403.1 1307.0,403.1 1307.5,403.1 1308.0,403.1 1308.5,403.1 1309.0,403.1 1309.5,414.1 1310.0,403.1 1310.5,403.1 1311.0,414.1 1311.5,414.1 1312.0,414.1 1312.5,425.1 1313.0,425.1 1313.5,425.1 1314.0,425.1 1314.5,425.1 1315.0,425.1 1315.5,425.1 1316.0,425.1 1316.5,425.1 1317.0,425.1 1317.5,425.1 1318.0,436.1 1318.5,436.1 1319.0,436.1 1319.5,436.1 1320.0,436.1 1320.5,436.1 1321.0,436.1 1321.5,447.1 1322.0,447.1 1322.5,447.1 1323.0,447.1 1323.5,447.1 1324.0,458.1 1324.5,458.1 1325.0,458.1 1325.5,458.1 1326.0,458.1 1326.5,458.1 1327.0,469.0 1327.5,458.1 1328.0,469.0 1328.5,469.0 1329.0,458.1 1329.5,469.0 1330.0,469.0 1330.5,469.0 1331.0,469.0 1331.5,480.0 1332.0,480.0 1332.5,480.0 1333.0,480.0 1333.5,480.0 1334.0,480.0 1334.5,480.0 1335.0,491.0 1335.5,480.0 1336.0,491.0 1336.5,491.0 1337.0,491.0 1337.5,491.0 1338.0,502.0 1338.5,502.0 1339.0,502.0 1339.5,502.0 1340.0,502.0 1340.5,502.0 1341.0,502.0 1341.5,513.0 1342.0,502.0 1342.5,502.0 1343.0,513.0 1343.5,513.0 1344.0,513.0 1344.5,513.0 1345.0,524.0 1345.5,513.0 1346.0,524.0 1346.5,524.0 1347.0,524.0 1347.5,524.0 1348.0,524.0 1348.5,524.0 1349.0,534.9 1349.5,534.9 1350.0,534.9 1350.5,534.9 1351.0,545.9 1351.5,545.9 1352.0,545.9 1352.5,545.9 1353.0,545.9 1353.5,545.9 1354.0,556.9 1354.5,545.9 1355.0,556.9 1355.5,556.9 1356.0,556.9 1356.5,556.9 1357.0,556.9 1357.5,567.9 1358.0,567.9 1358.5,567.9 1359.0,567.9 1359.5,567.9 1360.0,567.9 1360.5,578.9 1361.0,567.9 1361.5,578.9 1362.0,578.9 1362.5,578.9 1363.0,578.9 1363.5,578.9 1364.0,589.9 1364.5,589.9 1365.0,589.9 1365.5,589.9 1366.0,589.9 1366.5,600.8 1367.0,600.8 1367.5,600.8 1368.0,600.8 1368.5,600.8 1369.0,600.8 1369.5,611.8 1370.0,611.8 1370.5,611.8 1371.0,611.8 1371.5,611.8 1372.0,611.8 1372.5,611.8 1373.0,622.8 1373.5,622.8 1374.0,633.8 1374.5,622.8 1375.0,622.8 1375.5,633.8 1376.0,633.8 1376.5,633.8 1377.0,633.8 1377.5,633.8 1378.0,644.8 1378.5,633.8 1379.0,644.8 1379.5,644.8 1380.0,644.8 1380.5,644.8 1381.0,655.8 1381.5,655.8 1382.0,655.8 1382.5,655.8 1383.0,655.8 1383.5,655.8 1384.0,666.7 1384.5,655.8 1385.0,666.7 1385.5,666.7 1386.0,666.7 1386.5,666.7 1387.0,677.7 1387.5,677.7 1388.0,677.7 1388.5,677.7 1389.0,677.7 1389.5,677.7 1390.0,688.7 1390.5,688.7 1391.0,688.7 1391.5,688.7 1392.0,688.7 1392.5,688.7 1393.0,688.7 1393.5,688.7 1394.0,688.7 1394.5,699.7 1395.0,699.7 1395.5,699.7 1396.0,699.7 1396.5,699.7 1397.0,710.7 1397.5,710.7 1398.0,710.7 1398.5,710.7 1399.0,721.6 1399.5,710.7 1400.0,721.6 1400.5,721.6 1401.0,721.6 1401.5,721.6 1402.0,732.6 1402.5,721.6 1403.0,721.6 1403.5,732.6 1404.0,732.6 1404.5,732.6 1405.0,732.6 1405.5,732.6 1406.0,743.6 1406.5,743.6 1407.0,743.6 1407.5,743.6 1408.0,743.6 1408.5,743.6 1409.0,754.6 1409.5,754.6 1410.0,754.6 1410.5,754.6 1411.0,754.6 1411.5,754.6 1412.0,765.6 1412.5,754.6 1413.0,765.6 1413.5,765.6 1414.0,765.6 1414.5,776.6 1415.0,765.6 1415.5,765.6 1416.0,776.6 1416.5,776.6 1417.0,787.5 1417.5,787.5 1418.0,787.5 1418.5,787.5 1419.0,787.5 1419.5,787.5 1420.0,787.5 1420.5,787.5 1421.0,787.5 1421.5,787.5 1422.0,798.5 1422.5,798.5 1423.0,798.5 1423.5,809.5 1424.0,809.5 1424.5,809.5 1425.0,809.5 1425.5,809.5 1426.0,809.5 1426.5,809.5 1427.0,809.5 1427.5,820.5 1428.0,820.5 1428.5,820.5 1429.0,820.5 1429.5,820.5 1430.0,820.5 1430.5,831.5 1431.0,820.5 1431.5,831.5 1432.0,831.5 1432.5,831.5 1433.0,831.5 1433.5,842.5 1434.0,842.5 1434.5,831.5 1435.0,842.5 1435.5,842.5 1436.0,842.5 1436.5,842.5 1437.0,842.5 1437.5,842.5 1438.0,853.5 1438.5,853.5 1439.0,853.5 1439.5,853.5 1440.0,864.4 1440.5,853.5 1441.0,853.5 1441.5,864.4 1442.0,864.4 1442.5,864.4 1443.0,864.4 1443.5,864.4 1444.0,875.4 1444.5,875.4 1445.0,875.4 1445.5,875.4 1446.0,875.4 1446.5,875.4 1447.0,875.4 1447.5,886.4 1448.0,886.4 1448.5,886.4 1449.0,886.4 1449.5,886.4 1450.0,886.4 1450.5,886.4 1451.0,886.4 1451.5,897.4 1452.0,897.4 1452.5,897.4 1453.0,897.4 1453.5,908.4 1454.0,908.4 1454.5,908.4 1455.0,908.4 1455.5,908.4 1456.0,908.4 1456.5,908.4 1457.0,908.4 1457.5,908.4 1458.0,908.4 1458.5,919.4 1459.0,908.4 1459.5,919.4 1460.0,919.4 1460.5,919.4 1461.0,919.4 1461.5,930.3 1462.0,919.4 1462.5,930.3 1463.0,930.3 1463.5,930.3 1464.0,930.3 1464.5,930.3 1465.0,930.3 1465.5,930.3 1466.0,930.3 1466.5,941.3 1467.0,941.3 1467.5,941.3 1468.0,941.3 1468.5,941.3 1469.0,941.3 1469.5,941.3 1470.0,952.3 1470.5,952.3 1471.0,952.3 1471.5,952.3 1472.0,952.3 1472.5,952.3 1473.0,952.3 1473.5,963.3 1474.0,952.3 1474.5,963.3 1475.0,963.3 1475.5,963.3 1476.0,963.3 1476.5,963.3 1477.0,963.3 1477.5,963.3 1478.0,963.3 1478.5,963.3 1479.0,974.3 1479.5,974.3 1480.0,974.3 1480.5,974.3 1481.0,974.3 1481.5,974.3 1482.0,985.2 1482.5,985.2 1483.0,985.2 1483.5,985.2 1484.0,985.2 1484.5,974.3 1485.0,985.2 1485.5,985.2 1486.0,985.2 1486.5,985.2 1487.0,985.2 1487.5,996.2 1488.0,996.2 1488.5,996.2 1489.0,996.2 1489.5,996.2 1490.0,1007.2 1490.5,1007.2 1491.0,996.2 1491.5,996.2 1492.0,996.2 1492.5,1007.2 1493.0,1007.2 1493.5,1007.2 1494.0,1007.2 1494.5,1007.2 1495.0,1007.2 1495.5,1007.2 1496.0,1007.2 1496.5,1018.2 1497.0,1018.2 1497.5,1007.2 1498.0,1018.2 1498.5,1018.2 1499.0,1007.2 1499.5,1018.2 1500.0,1018.2 1500.5,1018.2 1501.0,1018.2 1501.5,1018.2 1502.0,1018.2 1502.5,1018.2 1503.0,1018.2 1503.5,1018.2 1504.0,1029.2 1504.5,1029.2 1505.0,1029.2 1505.5,1029.2 1506.0,1029.2 1506.5,1029.2 1507.0,1029.2 1507.5,1029.2 1508.0,1029.2 1508.5,1040.2 1509.0,1040.2 1509.5,1040.2 1510.0,1040.2 1510.5,1040.2 1511.0,1040.2 1511.5,1040.2 1512.0,1040.2 1512.5,1040.2 1513.0,1040.2 1513.5,1040.2 1514.0,1040.2 1514.5,1040.2 1515.0,1040.2 1515.5,1040.2 1516.0,1040.2 1516.5,1051.2 1517.0,1051.2 1517.5,1051.2 1518.0,1051.2 1518.5,1051.2 1519.0,1051.2 1519.5,1062.1 1520.0,1051.2 1520.5,1051.2 1521.0,1051.2 1521.5,1062.1 1522.0,1051.2 1522.5,1062.1 1523.0,1062.1 1523.5,1062.1 1524.0,1051.2 1524.5,1062.1 1525.0,1062.1 1525.5,1062.1 1526.0,1062.1 1526.5,1062.1 1527.0,1062.1 1527.5,1062.1 1528.0,1062.1 1528.5,1062.1 1529.0,1062.1 1529.5,1062.1 1530.0,1062.1 1530.5,1073.1 1531.0,1073.1 1531.5,1073.1 1532.0,1073.1 1532.5,1073.1 1533.0,1073.1 1533.5,1073.1 1534.0,1073.1 1534.5,1073.1 1535.0,1073.1 1535.5,1084.1 1536.0,1073.1 1536.5,1084.1 1537.0,1073.1 1537.5,1084.1 1538.0,1073.1 1538.5,1073.1 1539.0,1073.1 1539.5,1084.1 1540.0,1084.1 1540.5,1084.1 1541.0,1084.1 1541.5,1084.1 1542.0,1084.1 1542.5,1084.1 1543.0,1084.1 1543.5,1084.1 1544.0,1084.1 1544.5,1084.1 1545.0,1084.1 1545.5,1084.1 1546.0,1084.1 1546.5,1084.1 1547.0,1084.1 1547.5,1084.1 1548.0,1084.1 1548.5,1084.1 1549.0,1084.1 1549.5,1084.1 1550.0,1084.1 1550.5,1095.1 1551.0,1095.1 1551.5,1084.1 1552.0,1095.1 1552.5,1084.1 1553.0,1095.1 1553.5,1095.1 1554.0,1095.1 1554.5,1095.1 1555.0,1095.1 1555.5,1095.1 1556.0,1095.1 1556.5,1095.1 1557.0,1095.1 1557.5,1095.1 1558.0,1095.1 1558.5,1095.1 1559.0,1095.1 1559.5,1095.1 1560.0,1095.1 1560.5,1095.1 1561.0,1095.1 1561.5,1095.1 1562.0,1095.1 1562.5,1095.1 1563.0,1095.1 1563.5,1095.1 1564.0,1095.1 1564.5,1095.1 1565.0,1095.1 1565.5,1095.1 1566.0,1095.1 1566.5,1095.1 1567.0,1095.1 1567.5,1095.1 1568.0,1095.1 1568.5,1095.1 1569.0,1095.1 1569.5,1095.1 1570.0,1095.1 1570.5,1095.1 1571.0,1095.1 1571.5,1095.1 1572.0,1095.1 1572.5,1106.1 1573.0,1095.1 1573.5,1095.1 1574.0,1095.1 1574.5,1095.1 1575.0,1095.1 1575.5,1095.1 1576.0,1095.1 1576.5,1095.1 1577.0,1095.1 1577.5,1095.1 1578.0,1095.1 1578.5,1095.1 1579.0,1095.1 1579.5,1095.1 1580.0,1095.1 1580.5,1095.1 1581.0,1095.1 1581.5,1095.1 1582.0,1095.1 1582.5,1095.1 1583.0,1095.1 1583.5,1095.1 1584.0,1095.1 1584.5,1095.1 1585.0,1095.1 1585.5,1095.1 1586.0,1095.1 1586.5,1095.1 1587.0,1095.1 1587.5,1095.1 1588.0,1095.1 1588.5,1095.1 1589.0,1095.1 1589.5,1095.1 1590.0,1095.1 1590.5,1095.1 1591.0,1095.1 1591.5,1095.1 1592.0,1095.1 1592.5,1095.1 1593.0,1095.1 1593.5,1095.1 1594.0,1095.1 1594.5,1095.1 1595.0,1095.1 1595.5,1084.1 1596.0,1095.1 1596.5,1095.1 1597.0,1095.1 1597.5,1095.1 1598.0,1095.1 1598.5,1095.1 1599.0,1095.1 1599.5,1095.1 1600.0,1095.1 1600.5,1095.1 1601.0,1095.1 1601.5,1095.1 1602.0,1095.1 1602.5,1084.1 1603.0,1084.1 1603.5,1084.1 1604.0,1084.1 1604.5,1084.1 1605.0,1084.1 1605.5,1084.1 1606.0,1084.1 1606.5,1084.1 1607.0,1084.1 1607.5,1084.1 1608.0,1073.1 1608.5,1084.1 1609.0,1084.1 1609.5,1073.1 1610.0,1084.1 1610.5,1084.1 1611.0,1073.1 1611.5,1073.1 1612.0,1073.1 1612.5,1073.1 1613.0,1073.1 1613.5,1073.1 1614.0,1073.1 1614.5,1073.1 1615.0,1073.1 1615.5,1073.1 1616.0,1073.1 1616.5,1084.1 1617.0,1073.1 1617.5,1073.1 1618.0,1073.1 1618.5,1073.1 1619.0,1073.1 1619.5,1073.1 1620.0,1073.1 1620.5,1062.1 1621.0,1073.1 1621.5,1073.1 1622.0,1062.1 1622.5,1062.1 1623.0,1062.1 1623.5,1073.1 1624.0,1062.1 1624.5,1062.1 1625.0,1062.1 1625.5,1062.1 1626.0,1062.1 1626.5,1062.1 1627.0,1062.1 1627.5,1062.1 1628.0,1051.2 1628.5,1062.1 1629.0,1051.2 1629.5,1062.1 1630.0,1051.2 1630.5,1062.1 1631.0,1051.2 1631.5,1051.2 1632.0,1051.2 1632.5,1051.2 1633.0,1051.2 1633.5,1051.2 1634.0,1051.2 1634.5,1051.2 1635.0,1051.2 1635.5,1040.2 1636.0,1051.2 1636.5,1051.2 1637.0,1040.2 1637.5,1040.2 1638.0,1040.2 1638.5,1040.2 1639.0,1040.2 1639.5,1040.2 1640.0,1040.2 1640.5,1040.2 1641.0,1040.2 1641.5,1040.2 1642.0,1040.2 1642.5,1029.2 1643.0,1040.2 1643.5,1029.2 1644.0,1029.2 1644.5,1029.2 1645.0,1029.2 1645.5,1029.2 1646.0,1029.2 1646.5,1029.2 1647.0,1029.2 1647.5,1029.2 1648.0,1018.2 1648.5,1018.2 1649.0,1018.2 1649.5,1018.2 1650.0,1018.2 1650.5,1018.2 1651.0,1018.2 1651.5,1018.2 1652.0,1007.2 1652.5,1018.2 1653.0,1007.2 1653.5,1018.2 1654.0,1018.2 1654.5,1007.2 1655.0,1007.2 1655.5,1007.2 1656.0,1007.2 1656.5,1007.2 1657.0,1007.2 1657.5,996.2 1658.0,1007.2 1658.5,1007.2 1659.0,1007.2 1659.5,996.2 1660.0,996.2 1660.5,996.2 1661.0,996.2 1661.5,996.2 1662.0,996.2 1662.5,996.2 1663.0,996.2 1663.5,985.2 1664.0,996.2 1664.5,985.2 1665.0,985.2 1665.5,985.2 1666.0,985.2 1666.5,985.2 1667.0,985.2 1667.5,985.2 1668.0,985.2 1668.5,974.3 1669.0,985.2 1669.5,974.3 1670.0,974.3 1670.5,974.3 1671.0,974.3 1671.5,974.3 1672.0,963.3 1672.5,974.3 1673.0,963.3 1673.5,963.3 1674.0,963.3 1674.5,963.3 1675.0,952.3 1675.5,963.3 1676.0,963.3 1676.5,952.3 1677.0,952.3 1677.5,952.3 1678.0,963.3 1678.5,952.3 1679.0,952.3 1679.5,952.3 1680.0,952.3 1680.5,941.3 1681.0,952.3 1681.5,952.3 1682.0,941.3 1682.5,941.3 1683.0,941.3 1683.5,941.3 1684.0,941.3 1684.5,941.3 1685.0,941.3 1685.5,941.3 1686.0,930.3 1686.5,930.3 1687.0,930.3 1687.5,930.3 1688.0,930.3 1688.5,930.3 1689.0,919.4 1689.5,919.4 1690.0,919.4 1690.5,919.4 1691.0,919.4 1691.5,919.4 1692.0,919.4 1692.5,919.4 1693.0,908.4 1693.5,908.4 1694.0,908.4 1694.5,908.4 1695.0,908.4 1695.5,908.4 1696.0,908.4 1696.5,908.4 1697.0,908.4 1697.5,908.4 1698.0,897.4 1698.5,897.4 1699.0,897.4 1699.5,886.4 1700.0,897.4 1700.5,897.4 1701.0,886.4 1701.5,886.4 1702.0,886.4 1702.5,886.4 1703.0,886.4 1703.5,886.4 1704.0,886.4 1704.5,875.4 1705.0,875.4 1705.5,886.4 1706.0,875.4 1706.5,875.4 1707.0,875.4 1707.5,875.4 1708.0,875.4 1708.5,875.4 1709.0,864.4 1709.5,864.4 1710.0,864.4 1710.5,864.4 1711.0,853.5 1711.5,853.5 1712.0,864.4 1712.5,853.5 1713.0,853.5 1713.5,853.5 1714.0,853.5 1714.5,842.5 1715.0,853.5 1715.5,842.5 1716.0,842.5 1716.5,842.5 1717.0,842.5 1717.5,842.5 1718.0,842.5 1718.5,842.5 1719.0,842.5 1719.5,831.5 1720.0,842.5 1720.5,831.5 1721.0,831.5 1721.5,831.5 1722.0,831.5 1722.5,820.5 1723.0,831.5 1723.5,820.5 1724.0,820.5 1724.5,820.5 1725.0,820.5 1725.5,820.5 1726.0,809.5 1726.5,809.5 1727.0,809.5 1727.5,809.5 1728.0,809.5 1728.5,809.5 1729.0,809.5 1729.5,798.5 1730.0,798.5 1730.5,798.5 1731.0,798.5 1731.5,798.5 1732.0,798.5 1732.5,787.5 1733.0,787.5 1733.5,787.5 1734.0,787.5 1734.5,787.5 1735.0,787.5 1735.5,787.5 1736.0,776.6 1736.5,776.6 1737.0,776.6 1737.5,776.6 1738.0,776.6 1738.5,776.6 1739.0,765.6 1739.5,776.6 1740.0,765.6 1740.5,765.6 1741.0,765.6 1741.5,765.6 1742.0,754.6 1742.5,754.6 1743.0,754.6 1743.5,754.6 1744.0,754.6 1744.5,743.6 1745.0,743.6 1745.5,743.6 1746.0,743.6 1746.5,743.6 1747.0,743.6 1747.5,732.6 1748.0,732.6 1748.5,732.6 1749.0,732.6 1749.5,732.6 1750.0,732.6 1750.5,732.6 1751.0,721.6 1751.5,721.6 1752.0,721.6 1752.5,721.6 1753.0,721.6 1753.5,721.6 1754.0,710.7 1754.5,710.7 1755.0,710.7 1755.5,699.7 1756.0,710.7 1756.5,699.7 1757.0,699.7 1757.5,699.7 1758.0,699.7 1758.5,699.7 1759.0,699.7 1759.5,688.7 1760.0,688.7 1760.5,688.7 1761.0,688.7 1761.5,688.7 1762.0,688.7 1762.5,677.7 1763.0,677.7 1763.5,677.7 1764.0,677.7 1764.5,666.7 1765.0,677.7 1765.5,666.7 1766.0,666.7 1766.5,666.7 1767.0,655.8 1767.5,666.7 1768.0,655.8 1768.5,655.8 1769.0,655.8 1769.5,655.8 1770.0,644.8 1770.5,655.8 1771.0,644.8 1771.5,644.8" stroke="#ff141a"/><path d="M239.0,657.7 240.0,655.8 241.0,653.8 242.0,655.8 243.0,653.8 244.0,655.8 245.0,649.8 246.0,649.8 247.0,647.8 248.0,649.8 249.0,647.8 250.0,647.8 251.0,647.8 252.0,645.9 253.0,647.8 254.0,645.9 255.0,643.9 256.0,643.9 257.0,643.9 258.0,639.9 259.0,641.9 260.0,641.9 261.0,639.9 262.0,639.9 263.0,639.9 264.0,639.9 265.0,636.0 266.0,638.0 267.0,636.0 268.0,636.0 269.0,634.0 270.0,636.0 271.0,634.0 272.0,630.0 273.0,634.0 274.0,632.0 275.0,630.0 276.0,628.1 277.0,632.0 278.0,632.0 279.0,628.1 280.0,628.1 281.0,628.1 282.0,626.1 283.0,626.1 284.0,626.1 285.0,626.1 286.0,622.1 287.0,622.1 288.0,624.1 289.0,622.1 290.0,620.2 291.0,620.2 292.0,622.1 293.0,620.2 294.0,618.2 295.0,618.2 296.0,618.2 297.0,618.2 298.0,616.2 299.0,616.2 300.0,618.2 301.0,612.3 302.0,614.2 303.0,614.2 304.0,612.3 305.0,612.3 306.0,612.3 307.0,610.3 308.0,608.3 309.0,610.3 310.0,608.3 311.0,606.3 312.0,610.3 313.0,608.3 314.0,606.3 315.0,608.3 316.0,606.3 317.0,604.3 318.0,604.3 319.0,604.3 320.0,606.3 321.0,600.4 322.0,602.4 323.0,602.4 324.0,602.4 325.0,604.3 326.0,602.4 327.0,602.4 328.0,598.4 329.0,600.4 330.0,600.4 331.0,598.4 332.0,598.4 333.0,596.4 334.0,596.4 335.0,598.4 336.0,600.4 337.0,596.4 338.0,594.5 339.0,592.5 340.0,594.5 341.0,594.5 342.0,592.5 343.0,594.5 344.0,594.5 345.0,592.5 346.0,590.5 347.0,588.5 348.0,590.5 349.0,588.5 350.0,590.5 351.0,588.5 352.0,590.5 353.0,588.5 354.0,590.5 355.0,588.5 356.0,588.5 357.0,586.6 358.0,586.6 359.0,584.6 360.0,584.6 361.0,586.6 362.0,584.6 363.0,582.6 364.0,584.6 365.0,582.6 366.0,584.6 367.0,584.6 368.0,582.6 369.0,584.6 370.0,582.6 371.0,582.6 372.0,580.6 373.0,584.6 374.0,578.6 375.0,578.6 376.0,580.6 377.0,580.6 378.0,580.6 379.0,578.6 380.0,578.6 381.0,578.6 382.0,580.6 383.0,580.6 384.0,576.7 385.0,578.6 386.0,580.6 387.0,578.6 388.0,578.6 389.0,578.6 390.0,576.7 391.0,576.7 392.0,574.7 393.0,576.7 394.0,578.6 395.0,576.7 396.0,572.7 397.0,576.7 398.0,576.7 399.0,574.7 400.0,574.7 401.0,574.7 402.0,572.7 403.0,576.7 404.0,574.7 405.0,576.7 406.0,576.7 407.0,574.7 408.0,572.7 409.0,574.7 410.0,576.7 411.0,574.7 412.0,572.7 413.0,572.7 414.0,574.7 415.0,570.7 416.0,574.7 417.0,574.7 418.0,572.7 419.0,572.7 420.0,570.7 421.0,570.7 422.0,572.7 423.0,572.7 424.0,574.7 425.0,572.7 426.0,572.7 427.0,572.7 428.0,574.7 429.0,572.7 430.0,574.7 431.0,574.7 432.0,574.7 433.0,574.7 434.0,574.7 435.0,572.7 436.0,572.7 437.0,574.7 438.0,572.7 439.0,572.7 440.0,570.7 441.0,572.7 442.0,572.7 443.0,574.7 444.0,572.7 445.0,572.7 446.0,572.7 447.0,574.7 448.0,572.7 449.0,572.7 450.0,572.7 451.0,574.7 452.0,574.7 453.0,574.7 454.0,574.7 455.0,574.7 456.0,572.7 457.0,572.7 458.0,574.7 459.0,574.7 460.0,574.7 461.0,574.7 462.0,574.7 463.0,576.7 464.0,576.7 465.0,576.7 466.0,576.7 467.0,576.7 468.0,576.7 469.0,578.6 470.0,578.6 471.0,576.7 472.0,578.6 473.0,576.7 474.0,580.6 475.0,578.6 476.0,578.6 477.0,580.6 478.0,580.6 479.0,576.7 480.0,580.6 481.0,580.6 482.0,580.6 483.0,580.6 484.0,580.6 485.0,580.6 486.0,580.6 487.0,582.6 488.0,582.6 489.0,584.6 490.0,584.6 491.0,584.6 492.0,582.6 493.0,582.6 494.0,582.6 495.0,582.6 496.0,584.6 497.0,582.6 498.0,586.6 499.0,586.6 500.0,586.6 501.0,584.6 502.0,586.6 503.0,588.5 504.0,586.6 505.0,586.6 506.0,588.5 507.0,588.5 508.0,588.5 509.0,588.5 510.0,588.5 511.0,590.5 512.0,590.5 513.0,590.5 514.0,594.5 515.0,590.5 516.0,592.5 517.0,594.5 518.0,590.5 519.0,594.5 520.0,594.5 521.0,594.5 522.0,594.5 523.0,594.5 524.0,596.4 525.0,598.4 526.0,598.4 527.0,598.4 528.0,600.4 529.0,598.4 530.0,600.4 531.0,600.4 532.0,602.4 533.0,602.4 534.0,602.4 535.0,602.4 536.0,600.4 537.0,604.3 538.0,602.4 539.0,604.3 540.0,606.3 541.0,604.3 542.0,606.3 543.0,608.3 544.0,606.3 545.0,606.3 546.0,608.3 547.0,606.3 548.0,608.3 549.0,610.3 550.0,610.3 551.0,610.3 552.0,612.3 553.0,614.2 554.0,612.3 555.0,614.2 556.0,612.3 557.0,614.2 558.0,616.2 559.0,616.2 560.0,614.2 561.0,614.2 562.0,616.2 563.0,618.2 564.0,620.2 565.0,620.2 566.0,618.2 567.0,620.2 568.0,622.1 569.0,622.1 570.0,622.1 571.0,624.1 572.0,624.1 573.0,624.1 574.0,624.1 575.0,626.1 576.0,626.1 577.0,626.1 578.0,624.1 579.0,628.1 580.0,630.0 581.0,628.1 582.0,630.0 583.0,626.1 584.0,632.0 585.0,632.0 586.0,632.0 587.0,632.0 588.0,634.0 589.0,636.0 590.0,638.0 591.0,636.0 592.0,638.0 593.0,638.0 594.0,636.0 595.0,638.0 596.0,638.0 597.0,639.9 598.0,639.9 599.0,641.9 600.0,641.9 601.0,641.9 602.0,641.9 603.0,643.9 604.0,643.9 605.0,647.8 606.0,645.9 607.0,645.9 608.0,647.8 609.0,647.8 610.0,647.8 611.0,649.8 612.0,649.8 613.0,649.8 614.0,651.8 615.0,649.8 616.0,651.8 617.0,651.8 618.0,651.8 619.0,657.7 620.0,655.8 621.0,657.7 622.0,657.7 623.0,657.7 624.0,655.8 625.0,659.7 626.0,657.7 627.0,661.7 628.0,661.7 629.0,661.7 630.0,661.7 631.0,663.7 632.0,663.7 633.0,665.6 634.0,667.6 635.0,663.7 636.0,665.6 637.0,665.6 638.0,667.6 639.0,669.6 640.0,669.6 641.0,669.6 642.0,671.6 643.0,671.6 644.0,669.6 645.0,671.6 646.0,673.5 647.0,673.5 648.0,673.5 649.0,673.5 650.0,675.5 651.0,675.5 652.0,677.5 653.0,675.5 654.0,679.5 655.0,679.5 656.0,679.5 657.0,681.5 658.0,681.5 659.0,681.5 660.0,681.5 661.0,683.4 662.0,685.4 663.0,685.4 664.0,685.4 665.0,685.4 666.0,687.4 667.0,687.4 668.0,689.4 669.0,687.4 670.0,689.4 671.0,691.3 672.0,691.3 673.0,691.3 674.0,693.3 675.0,691.3 676.0,693.3 677.0,693.3 678.0,693.3 679.0,693.3 680.0,695.3 681.0,695.3 682.0,697.3 683.0,699.2 684.0,697.3 685.0,699.2 686.0,699.2 687.0,699.2 688.0,699.2 689.0,699.2 690.0,701.2 691.0,703.2 692.0,701.2 693.0,701.2 694.0,703.2 695.0,703.2 696.0,703.2 697.0,705.2 698.0,705.2 699.0,705.2 700.0,705.2 701.0,705.2 702.0,707.2 703.0,709.1 704.0,707.2 705.0,709.1 706.0,711.1 707.0,713.1 708.0,711.1 709.0,709.1 710.0,711.1 711.0,713.1 712.0,711.1 713.0,713.1 714.0,715.1 715.0,715.1 716.0,715.1 717.0,715.1 718.0,715.1 719.0,719.0 720.0,715.1 721.0,717.0 722.0,717.0 723.0,719.0 724.0,719.0 725.0,719.0 726.0,721.0 727.0,719.0 728.0,719.0 729.0,723.0 730.0,723.0 731.0,723.0 732.0,723.0 733.0,723.0 734.0,723.0 735.0,721.0 736.0,723.0 737.0,724.9 738.0,724.9 739.0,728.9 740.0,726.9 741.0,726.9 742.0,726.9 743.0,724.9 744.0,726.9 745.0,724.9 746.0,728.9 747.0,726.9 748.0,728.9 749.0,728.9 750.0,728.9 751.0,728.9 752.0,728.9 753.0,728.9 754.0,728.9 755.0,730.9 756.0,730.9 757.0,726.9 758.0,730.9 759.0,730.9 760.0,730.9 761.0,732.9 762.0,730.9 763.0,730.9 764.0,732.9 765.0,732.9 766.0,732.9 767.0,732.9 768.0,734.8 769.0,732.9 770.0,734.8 771.0,732.9 772.0,734.8 773.0,736.8 774.0,734.8 775.0,736.8 776.0,734.8 777.0,736.8 778.0,738.8 779.0,736.8 780.0,734.8 781.0,736.8 782.0,736.8 783.0,736.8 784.0,736.8 785.0,734.8 786.0,736.8 787.0,736.8 788.0,738.8 789.0,736.8 790.0,736.8 791.0,736.8 792.0,736.8 793.0,738.8 794.0,736.8 795.0,738.8 796.0,738.8 797.0,738.8 798.0,738.8 799.0,738.8 800.0,736.8 801.0,738.8 802.0,738.8 803.0,738.8 804.0,738.8 805.0,738.8 806.0,740.8 807.0,736.8 808.0,740.8 809.0,738.8 810.0,740.8 811.0,740.8 812.0,738.8 813.0,740.8 814.0,740.8 815.0,738.8 816.0,740.8 817.0,738.8 818.0,736.8 819.0,738.8 820.0,738.8 821.0,738.8 822.0,738.8 823.0,738.8 824.0,736.8 825.0,738.8 826.0,736.8 827.0,738.8 828.0,738.8 829.0,736.8 830.0,736.8 831.0,736.8 832.0,736.8 833.0,734.8 834.0,738.8 835.0,736.8 836.0,736.8 837.0,738.8 838.0,736.8 839.0,736.8 840.0,736.8 841.0,738.8 842.0,736.8 843.0,736.8 844.0,736.8 845.0,736.8 846.0,734.8 847.0,734.8 848.0,736.8 849.0,732.9 850.0,734.8 851.0,732.9 852.0,732.9 853.0,732.9 854.0,734.8 855.0,734.8 856.0,732.9 857.0,732.9 858.0,734.8 859.0,734.8 860.0,732.9 861.0,732.9 862.0,732.9 863.0,730.9 864.0,732.9 865.0,726.9 866.0,728.9 867.0,728.9 868.0,728.9 869.0,732.9 870.0,728.9 871.0,728.9 872.0,728.9 873.0,728.9 874.0,726.9 875.0,728.9 876.0,726.9 877.0,726.9 878.0,726.9 879.0,726.9 880.0,724.9 881.0,723.0 882.0,724.9 883.0,723.0 884.0,724.9 885.0,724.9 886.0,723.0 887.0,723.0 888.0,724.9 889.0,721.0 890.0,721.0 891.0,721.0 892.0,721.0 893.0,721.0 894.0,721.0 895.0,719.0 896.0,721.0 897.0,721.0 898.0,721.0 899.0,719.0 900.0,719.0 901.0,717.0 902.0,717.0 903.0,719.0 904.0,717.0 905.0,715.1 906.0,715.1 907.0,715.1 908.0,713.1 909.0,715.1 910.0,713.1 911.0,715.1 912.0,711.1 913.0,715.1 914.0,709.1 915.0,709.1 916.0,713.1 917.0,711.1 918.0,711.1 919.0,711.1 920.0,709.1 921.0,709.1 922.0,705.2 923.0,707.2 924.0,707.2 925.0,705.2 926.0,705.2 927.0,703.2 928.0,703.2 929.0,705.2 930.0,703.2 931.0,703.2 932.0,703.2 933.0,701.2 934.0,701.2 935.0,699.2 936.0,699.2 937.0,699.2 938.0,699.2 939.0,695.3 940.0,697.3 941.0,697.3 942.0,697.3 943.0,695.3 944.0,697.3 945.0,693.3 946.0,693.3 947.0,693.3 948.0,693.3 949.0,691.3 950.0,691.3 951.0,691.3 952.0,689.4 953.0,689.4 954.0,689.4 955.0,689.4 956.0,689.4 957.0,685.4 958.0,687.4 959.0,685.4 960.0,685.4 961.0,685.4 962.0,685.4 963.0,683.4 964.0,683.4 965.0,681.5 966.0,681.5 967.0,681.5 968.0,679.5 969.0,681.5 970.0,681.5 971.0,677.5 972.0,675.5 973.0,677.5 974.0,677.5 975.0,673.5 976.0,673.5 977.0,673.5 978.0,675.5 979.0,673.5 980.0,673.5 981.0,673.5 982.0,669.6 983.0,669.6 984.0,669.6 985.0,669.6 986.0,667.6 987.0,667.6 988.0,667.6 989.0,665.6 990.0,665.6 991.0,665.6 992.0,665.6 993.0,663.7 994.0,661.7 995.0,663.7 996.0,663.7 997.0,661.7 998.0,661.7 999.0,657.7 1000.0,657.7 1001.0,657.7 1002.0,659.7 1003.0,657.7 1004.0,653.8 1005.0,657.7 1006.0,657.7 1007.0,653.8 1008.0,651.8 1009.0,651.8 1010.0,653.8 1011.0,651.8 1012.0,649.8 1013.0,649.8 1014.0,649.8 1015.0,647.8 1016.0,647.8 1017.0,645.9 1018.0,645.9 1019.0,645.9 1020.0,647.8 1021.0,643.9 1022.0,645.9 1023.0,639.9 1024.0,643.9 1025.0,643.9 1026.0,643.9 1027.0,639.9 1028.0,639.9 1029.0,638.0 1030.0,638.0 1031.0,639.9 1032.0,636.0 1033.0,638.0 1034.0,638.0 1035.0,634.0 1036.0,634.0 1037.0,636.0 1038.0,634.0 1039.0,632.0 1040.0,630.0 1041.0,632.0 1042.0,630.0 1043.0,634.0 1044.0,630.0 1045.0,628.1 1046.0,628.1 1047.0,628.1 1048.0,628.1 1049.0,626.1 1050.0,624.1 1051.0,626.1 1052.0,624.1 1053.0,624.1 1054.0,626.1 1055.0,622.1 1056.0,620.2 1057.0,622.1 1058.0,620.2 1059.0,620.2 1060.0,620.2 1061.0,618.2 1062.0,616.2 1063.0,616.2 1064.0,618.2 1065.0,614.2 1066.0,616.2 1067.0,614.2 1068.0,612.3 1069.0,612.3 1070.0,612.3 1071.0,612.3 1072.0,612.3 1073.0,610.3 1074.0,610.3 1075.0,612.3 1076.0,608.3 1077.0,608.3 1078.0,608.3 1079.0,608.3 1080.0,608.3 1081.0,606.3 1082.0,608.3 1083.0,604.3 1084.0,604.3 1085.0,606.3 1086.0,604.3 1087.0,604.3 1088.0,602.4 1089.0,602.4 1090.0,598.4 1091.0,602.4 1092.0,600.4 1093.0,600.4 1094.0,600.4 1095.0,598.4 1096.0,600.4 1097.0,598.4 1098.0,598.4 1099.0,598.4 1100.0,596.4 1101.0,598.4 1102.0,594.5 1103.0,594.5 1104.0,596.4 1105.0,594.5 1106.0,594.5 1107.0,592.5 1108.0,592.5 1109.0,594.5 1110.0,590.5 1111.0,590.5 1112.0,594.5 1113.0,594.5 1114.0,588.5 1115.0,590.5 1116.0,592.5 1117.0,588.5 1118.0,586.6 1119.0,590.5 1120.0,586.6 1121.0,586.6 1122.0,586.6 1123.0,588.5 1124.0,586.6 1125.0,586.6 1126.0,586.6 1127.0,586.6 1128.0,586.6 1129.0,584.6 1130.0,582.6 1131.0,582.6 1132.0,582.6 1133.0,580.6 1134.0,584.6 1135.0,582.6 1136.0,582.6 1137.0,580.6 1138.0,584.6 1139.0,582.6 1140.0,580.6 1141.0,580.6 1142.0,578.6 1143.0,580.6 1144.0,580.6 1145.0,578.6 1146.0,578.6 1147.0,578.6 1148.0,576.7 1149.0,580.6 1150.0,576.7 1151.0,576.7 1152.0,576.7 1153.0,576.7 1154.0,578.6 1155.0,576.7 1156.0,576.7 1157.0,576.7 1158.0,576.7 1159.0,576.7 1160.0,574.7 1161.0,578.6 1162.0,576.7 1163.0,574.7 1164.0,574.7 1165.0,574.7 1166.0,572.7 1167.0,574.7 1168.0,574.7 1169.0,576.7 1170.0,574.7 1171.0,572.7 1172.0,574.7 1173.0,574.7 1174.0,572.7 1175.0,574.7 1176.0,574.7 1177.0,572.7 1178.0,572.7 1179.0,572.7 1180.0,572.7 1181.0,572.7 1182.0,572.7 1183.0,572.7 1184.0,572.7 1185.0,574.7 1186.0,574.7 1187.0,574.7 1188.0,572.7 1189.0,572.7 1190.0,574.7 1191.0,568.8 1192.0,574.7 1193.0,572.7 1194.0,572.7 1195.0,572.7 1196.0,572.7 1197.0,574.7 1198.0,572.7 1199.0,574.7 1200.0,572.7 1201.0,572.7 1202.0,572.7 1203.0,574.7 1204.0,572.7 1205.0,572.7 1206.0,572.7 1207.0,574.7 1208.0,572.7 1209.0,572.7 1210.0,572.7 1211.0,572.7 1212.0,572.7 1213.0,574.7 1214.0,572.7 1215.0,572.7 1216.0,574.7 1217.0,574.7 1218.0,572.7 1219.0,574.7 1220.0,574.7 1221.0,574.7 1222.0,576.7 1223.0,576.7 1224.0,574.7 1225.0,574.7 1226.0,574.7 1227.0,574.7 1228.0,576.7 1229.0,574.7 1230.0,576.7 1231.0,576.7 1232.0,576.7 1233.0,576.7 1234.0,578.6 1235.0,576.7 1236.0,576.7 1237.0,576.7 1238.0,578.6 1239.0,578.6 1240.0,578.6 1241.0,578.6 1242.0,578.6 1243.0,578.6 1244.0,580.6 1245.0,580.6 1246.0,580.6 1247.0,580.6 1248.0,580.6 1249.0,578.6 1250.0,580.6 1251.0,580.6 1252.0,580.6 1253.0,584.6 1254.0,582.6 1255.0,580.6 1256.0,584.6 1257.0,582.6 1258.0,582.6 1259.0,584.6 1260.0,584.6 1261.0,584.6 1262.0,586.6 1263.0,584.6 1264.0,586.6 1265.0,586.6 1266.0,588.5 1267.0,586.6 1268.0,588.5 1269.0,586.6 1270.0,586.6 1271.0,588.5 1272.0,586.6 1273.0,588.5 1274.0,588.5 1275.0,590.5 1276.0,590.5 1277.0,592.5 1278.0,590.5 1279.0,592.5 1280.0,592.5 1281.0,592.5 1282.0,592.5 1283.0,594.5 1284.0,594.5 1285.0,596.4 1286.0,596.4 1287.0,594.5 1288.0,594.5 1289.0,598.4 1290.0,596.4 1291.0,596.4 1292.0,598.4 1293.0,598.4 1294.0,600.4 1295.0,598.4 1296.0,602.4 1297.0,600.4 1298.0,600.4 1299.0,602.4 1300.0,600.4 1301.0,602.4 1302.0,604.3 1303.0,604.3 1304.0,604.3 1305.0,604.3 1306.0,604.3 1307.0,606.3 1308.0,606.3 1309.0,606.3 1310.0,606.3 1311.0,606.3 1312.0,610.3 1313.0,606.3 1314.0,608.3 1315.0,612.3 1316.0,610.3 1317.0,612.3 1318.0,612.3 1319.0,614.2 1320.0,612.3 1321.0,614.2 1322.0,614.2 1323.0,614.2 1324.0,616.2 1325.0,616.2 1326.0,616.2 1327.0,618.2 1328.0,616.2 1329.0,616.2 1330.0,620.2 1331.0,618.2 1332.0,620.2 1333.0,620.2 1334.0,620.2 1335.0,622.1 1336.0,622.1 1337.0,624.1 1338.0,624.1 1339.0,624.1 1340.0,624.1 1341.0,624.1 1342.0,628.1 1343.0,628.1 1344.0,628.1 1345.0,628.1 1346.0,630.0 1347.0,630.0 1348.0,630.0 1349.0,630.0 1350.0,632.0 1351.0,634.0 1352.0,632.0 1353.0,636.0 1354.0,636.0 1355.0,636.0 1356.0,636.0 1357.0,639.9 1358.0,638.0 1359.0,639.9 1360.0,638.0 1361.0,638.0 1362.0,639.9 1363.0,639.9 1364.0,641.9 1365.0,641.9 1366.0,641.9 1367.0,641.9 1368.0,643.9 1369.0,647.8 1370.0,643.9 1371.0,647.8 1372.0,647.8 1373.0,647.8 1374.0,645.9 1375.0,647.8 1376.0,647.8 1377.0,649.8 1378.0,651.8 1379.0,649.8 1380.0,651.8 1381.0,653.8 1382.0,655.8 1383.0,649.8 1384.0,651.8 1385.0,655.8 1386.0,655.8 1387.0,655.8 1388.0,657.7 1389.0,659.7 1390.0,659.7 1391.0,657.7 1392.0,657.7 1393.0,659.7 1394.0,659.7 1395.0,661.7 1396.0,661.7 1397.0,661.7 1398.0,663.7 1399.0,663.7 1400.0,663.7 1401.0,667.6 1402.0,665.6 1403.0,667.6 1404.0,669.6 1405.0,667.6 1406.0,671.6 1407.0,669.6 1408.0,669.6 1409.0,671.6 1410.0,673.5 1411.0,673.5 1412.0,673.5 1413.0,673.5 1414.0,675.5 1415.0,677.5 1416.0,677.5 1417.0,677.5 1418.0,677.5 1419.0,677.5 1420.0,679.5 1421.0,677.5 1422.0,681.5 1423.0,683.4 1424.0,679.5 1425.0,683.4 1426.0,683.4 1427.0,683.4 1428.0,685.4 1429.0,685.4 1430.0,687.4 1431.0,685.4 1432.0,687.4 1433.0,687.4 1434.0,687.4 1435.0,687.4 1436.0,691.3 1437.0,689.4 1438.0,691.3 1439.0,691.3 1440.0,691.3 1441.0,691.3 1442.0,691.3 1443.0,691.3 1444.0,693.3 1445.0,695.3 1446.0,693.3 1447.0,697.3 1448.0,697.3 1449.0,697.3 1450.0,697.3 1451.0,697.3 1452.0,699.2 1453.0,699.2 1454.0,701.2 1455.0,701.2 1456.0,703.2 1457.0,703.2 1458.0,701.2 1459.0,703.2 1460.0,705.2 1461.0,705.2 1462.0,705.2 1463.0,707.2 1464.0,705.2 1465.0,705.2 1466.0,705.2 1467.0,707.2 1468.0,707.2 1469.0,707.2 1470.0,709.1 1471.0,709.1 1472.0,711.1 1473.0,711.1 1474.0,711.1 1475.0,711.1 1476.0,713.1 1477.0,713.1 1478.0,713.1 1479.0,713.1 1480.0,715.1 1481.0,715.1 1482.0,717.0 1483.0,717.0 1484.0,717.0 1485.0,715.1 1486.0,717.0 1487.0,715.1 1488.0,717.0 1489.0,717.0 1490.0,719.0 1491.0,717.0 1492.0,719.0 1493.0,719.0 1494.0,719.0 1495.0,719.0 1496.0,721.0 1497.0,721.0 1498.0,721.0 1499.0,723.0 1500.0,721.0 1501.0,723.0 1502.0,723.0 1503.0,721.0 1504.0,724.9 1505.0,724.9 1506.0,724.9 1507.0,726.9 1508.0,724.9 1509.0,726.9 1510.0,726.9 1511.0,728.9 1512.0,726.9 1513.0,728.9 1514.0,730.9 1515.0,728.9 1516.0,730.9 1517.0,726.9 1518.0,730.9 1519.0,728.9 1520.0,730.9 1521.0,730.9 1522.0,730.9 1523.0,728.9 1524.0,732.9 1525.0,730.9 1526.0,730.9 1527.0,732.9 1528.0,730.9 1529.0,732.9 1530.0,734.8 1531.0,732.9 1532.0,730.9 1533.0,732.9 1534.0,734.8 1535.0,732.9 1536.0,732.9 1537.0,734.8 1538.0,734.8 1539.0,734.8 1540.0,734.8 1541.0,734.8 1542.0,734.8 1543.0,734.8 1544.0,734.8 1545.0,738.8 1546.0,736.8 1547.0,734.8 1548.0,736.8 1549.0,736.8 1550.0,736.8 1551.0,736.8 1552.0,736.8 1553.0,734.8 1554.0,736.8 1555.0,736.8 1556.0,738.8 1557.0,736.8 1558.0,738.8 1559.0,736.8 1560.0,738.8 1561.0,738.8 1562.0,738.8 1563.0,738.8 1564.0,736.8 1565.0,738.8 1566.0,738.8 1567.0,738.8 1568.0,736.8 1569.0,736.8 1570.0,738.8 1571.0,738.8 1572.0,736.8 1573.0,738.8 1574.0,738.8 1575.0,738.8 1576.0,740.8 1577.0,740.8 1578.0,736.8 1579.0,738.8 1580.0,740.8 1581.0,738.8 1582.0,738.8 1583.0,738.8 1584.0,738.8 1585.0,740.8 1586.0,740.8 1587.0,738.8 1588.0,738.8 1589.0,738.8 1590.0,738.8 1591.0,738.8 1592.0,738.8 1593.0,738.8 1594.0,736.8 1595.0,736.8 1596.0,736.8 1597.0,736.8 1598.0,736.8 1599.0,736.8 1600.0,736.8 1601.0,736.8 1602.0,736.8 1603.0,736.8 1604.0,736.8 1605.0,736.8 1606.0,736.8 1607.0,736.8 1608.0,734.8 1609.0,736.8 1610.0,736.8 1611.0,732.9 1612.0,734.8 1613.0,736.8 1614.0,732.9 1615.0,736.8 1616.0,734.8 1617.0,732.9 1618.0,734.8 1619.0,734.8 1620.0,732.9 1621.0,732.9 1622.0,734.8 1623.0,732.9 1624.0,730.9 1625.0,730.9 1626.0,732.9 1627.0,732.9 1628.0,730.9 1629.0,732.9 1630.0,732.9 1631.0,730.9 1632.0,730.9 1633.0,732.9 1634.0,728.9 1635.0,730.9 1636.0,728.9 1637.0,730.9 1638.0,728.9 1639.0,726.9 1640.0,726.9 1641.0,726.9 1642.0,726.9 1643.0,724.9 1644.0,724.9 1645.0,724.9 1646.0,726.9 1647.0,723.0 1648.0,724.9 1649.0,724.9 1650.0,723.0 1651.0,723.0 1652.0,723.0 1653.0,723.0 1654.0,721.0 1655.0,723.0 1656.0,723.0 1657.0,719.0 1658.0,723.0 1659.0,723.0 1660.0,721.0 1661.0,719.0 1662.0,717.0 1663.0,719.0 1664.0,717.0 1665.0,715.1 1666.0,715.1 1667.0,719.0 1668.0,715.1 1669.0,713.1 1670.0,717.0 1671.0,717.0 1672.0,713.1 1673.0,713.1 1674.0,713.1 1675.0,713.1 1676.0,715.1 1677.0,713.1 1678.0,711.1 1679.0,711.1 1680.0,709.1 1681.0,709.1 1682.0,709.1 1683.0,709.1 1684.0,707.2 1685.0,709.1 1686.0,707.2 1687.0,707.2 1688.0,705.2 1689.0,703.2 1690.0,705.2 1691.0,705.2 1692.0,705.2 1693.0,705.2 1694.0,703.2 1695.0,705.2 1696.0,701.2 1697.0,701.2 1698.0,701.2 1699.0,701.2 1700.0,697.3 1701.0,697.3 1702.0,695.3 1703.0,695.3 1704.0,697.3 1705.0,697.3 1706.0,693.3 1707.0,693.3 1708.0,693.3 1709.0,691.3 1710.0,693.3 1711.0,693.3 1712.0,691.3 1713.0,691.3 1714.0,691.3 1715.0,689.4 1716.0,685.4 1717.0,689.4 1718.0,687.4 1719.0,687.4 1720.0,687.4 1721.0,683.4 1722.0,685.4 1723.0,683.4 1724.0,685.4 1725.0,683.4 1726.0,683.4 1727.0,681.5 1728.0,681.5 1729.0,679.5 1730.0,679.5 1731.0,679.5 1732.0,679.5 1733.0,677.5 1734.0,677.5 1735.0,675.5 1736.0,677.5 1737.0,675.5 1738.0,677.5 1739.0,673.5 1740.0,673.5 1741.0,673.5 1742.0,671.6 1743.0,671.6 1744.0,671.6 1745.0,669.6 1746.0,667.6 1747.0,667.6 1748.0,667.6 1749.0,667.6 1750.0,665.6 1751.0,665.6 1752.0,665.6 1753.0,663.7 1754.0,665.6 1755.0,663.7 1756.0,663.7 1757.0,663.7 1758.0,659.7 1759.0,661.7 1760.0,661.7 1761.0,659.7 1762.0,659.7 1763.0,657.7 1764.0,657.7 1765.0,657.7 1766.0,655.8 1767.0,653.8 1768.0,653.8 1769.0,653.8 1770.0,651.8 1771.0,653.8" stroke="#007dbc"/><path d="M239.0,655.8 240.0,655.8 241.0,655.8 242.0,654.3 243.0,654.3 244.0,654.3 245.0,652.8 246.0,652.8 247.0,651.3 248.0,651.3 249.0,651.3 250.0,651.3 251.0,651.3 252.0,649.8 253.0,649.8 254.0,649.8 255.0,649.8 256.0,649.8 257.0,649.8 258.0,648.3 259.0,648.3 260.0,646.9 261.0,646.9 262.0,646.9 263.0,645.4 264.0,645.4 265.0,645.4 266.0,643.9 267.0,643.9 268.0,643.9 269.0,643.9 270.0,643.9 271.0,643.9 272.0,642.4 273.0,642.4 274.0,642.4 275.0,642.4 276.0,642.4 277.0,640.9 278.0,639.4 279.0,640.9 280.0,639.4 281.0,639.4 282.0,639.4 283.0,638.0 284.0,638.0 285.0,639.4 286.0,638.0 287.0,636.5 288.0,638.0 289.0,636.5 290.0,636.5 291.0,636.5 292.0,635.0 293.0,635.0 294.0,633.5 295.0,633.5 296.0,633.5 297.0,633.5 298.0,633.5 299.0,632.0 300.0,633.5 301.0,632.0 302.0,632.0 303.0,632.0 304.0,632.0 305.0,630.5 306.0,632.0 307.0,630.5 308.0,629.1 309.0,629.1 310.0,629.1 311.0,630.5 312.0,630.5 313.0,627.6 314.0,627.6 315.0,627.6 316.0,626.1 317.0,626.1 318.0,626.1 319.0,626.1 320.0,626.1 321.0,624.6 322.0,624.6 323.0,624.6 324.0,624.6 325.0,624.6 326.0,623.1 327.0,623.1 328.0,623.1 329.0,624.6 330.0,623.1 331.0,621.6 332.0,623.1 333.0,621.6 334.0,621.6 335.0,621.6 336.0,620.2 337.0,620.2 338.0,620.2 339.0,620.2 340.0,620.2 341.0,620.2 342.0,618.7 343.0,620.2 344.0,618.7 345.0,618.7 346.0,618.7 347.0,618.7 348.0,617.2 349.0,617.2 350.0,617.2 351.0,618.7 352.0,617.2 353.0,617.2 354.0,617.2 355.0,615.7 356.0,617.2 357.0,615.7 358.0,615.7 359.0,615.7 360.0,614.2 361.0,614.2 362.0,614.2 363.0,614.2 364.0,614.2 365.0,614.2 366.0,614.2 367.0,614.2 368.0,612.8 369.0,612.8 370.0,612.8 371.0,612.8 372.0,612.8 373.0,611.3 374.0,612.8 375.0,612.8 376.0,612.8 377.0,611.3 378.0,611.3 379.0,611.3 380.0,611.3 381.0,609.8 382.0,612.8 383.0,611.3 384.0,611.3 385.0,609.8 386.0,609.8 387.0,611.3 388.0,609.8 389.0,609.8 390.0,609.8 391.0,608.3 392.0,609.8 393.0,609.8 394.0,609.8 395.0,609.8 396.0,609.8 397.0,611.3 398.0,609.8 399.0,608.3 400.0,609.8 401.0,608.3 402.0,608.3 403.0,608.3 404.0,606.8 405.0,609.8 406.0,608.3 407.0,608.3 408.0,608.3 409.0,606.8 410.0,609.8 411.0,606.8 412.0,608.3 413.0,606.8 414.0,608.3 415.0,608.3 416.0,606.8 417.0,608.3 418.0,606.8 419.0,606.8 420.0,606.8 421.0,606.8 422.0,606.8 423.0,606.8 424.0,606.8 425.0,605.3 426.0,608.3 427.0,606.8 428.0,606.8 429.0,606.8 430.0,606.8 431.0,606.8 432.0,606.8 433.0,608.3 434.0,608.3 435.0,606.8 436.0,608.3 437.0,608.3 438.0,608.3 439.0,606.8 440.0,606.8 441.0,606.8 442.0,608.3 443.0,608.3 444.0,608.3 445.0,606.8 446.0,606.8 447.0,608.3 448.0,606.8 449.0,606.8 450.0,608.3 451.0,609.8 452.0,606.8 453.0,608.3 454.0,608.3 455.0,608.3 456.0,608.3 457.0,608.3 458.0,609.8 459.0,608.3 460.0,608.3 461.0,608.3 462.0,609.8 463.0,609.8 464.0,608.3 465.0,609.8 466.0,609.8 467.0,608.3 468.0,609.8 469.0,611.3 470.0,609.8 471.0,611.3 472.0,609.8 473.0,609.8 474.0,611.3 475.0,611.3 476.0,609.8 477.0,611.3 478.0,609.8 479.0,611.3 480.0,611.3 481.0,611.3 482.0,611.3 483.0,612.8 484.0,611.3 485.0,612.8 486.0,612.8 487.0,614.2 488.0,612.8 489.0,614.2 490.0,612.8 491.0,612.8 492.0,614.2 493.0,614.2 494.0,614.2 495.0,612.8 496.0,614.2 497.0,614.2 498.0,614.2 499.0,615.7 500.0,615.7 501.0,615.7 502.0,615.7 503.0,617.2 504.0,615.7 505.0,615.7 506.0,615.7 507.0,617.2 508.0,617.2 509.0,617.2 510.0,618.7 511.0,618.7 512.0,618.7 513.0,617.2 514.0,618.7 515.0,618.7 516.0,620.2 517.0,620.2 518.0,620.2 519.0,620.2 520.0,620.2 521.0,621.6 522.0,620.2 523.0,621.6 524.0,621.6 525.0,621.6 526.0,621.6 527.0,623.1 528.0,623.1 529.0,623.1 530.0,623.1 531.0,623.1 532.0,623.1 533.0,623.1 534.0,624.6 535.0,623.1 536.0,624.6 537.0,624.6 538.0,626.1 539.0,624.6 540.0,624.6 541.0,626.1 542.0,627.6 543.0,626.1 544.0,629.1 545.0,627.6 546.0,626.1 547.0,629.1 548.0,627.6 549.0,627.6 550.0,629.1 551.0,629.1 552.0,629.1 553.0,630.5 554.0,630.5 555.0,630.5 556.0,630.5 557.0,632.0 558.0,632.0 559.0,633.5 560.0,633.5 561.0,632.0 562.0,633.5 563.0,635.0 564.0,635.0 565.0,633.5 566.0,633.5 567.0,635.0 568.0,636.5 569.0,635.0 570.0,636.5 571.0,635.0 572.0,636.5 573.0,638.0 574.0,638.0 575.0,639.4 576.0,638.0 577.0,639.4 578.0,639.4 579.0,639.4 580.0,639.4 581.0,640.9 582.0,640.9 583.0,640.9 584.0,640.9 585.0,642.4 586.0,642.4 587.0,640.9 588.0,642.4 589.0,643.9 590.0,645.4 591.0,643.9 592.0,643.9 593.0,643.9 594.0,645.4 595.0,646.9 596.0,645.4 597.0,648.3 598.0,646.9 599.0,646.9 600.0,646.9 601.0,648.3 602.0,648.3 603.0,648.3 604.0,649.8 605.0,649.8 606.0,649.8 607.0,651.3 608.0,649.8 609.0,651.3 610.0,652.8 611.0,652.8 612.0,652.8 613.0,652.8 614.0,652.8 615.0,654.3 616.0,654.3 617.0,654.3 618.0,655.8 619.0,655.8 620.0,655.8 621.0,655.8 622.0,657.2 623.0,657.2 624.0,657.2 625.0,658.7 626.0,658.7 627.0,658.7 628.0,658.7 629.0,660.2 630.0,661.7 631.0,660.2 632.0,660.2 633.0,661.7 634.0,661.7 635.0,661.7 636.0,661.7 637.0,661.7 638.0,663.2 639.0,663.2 640.0,663.2 641.0,664.6 642.0,664.6 643.0,664.6 644.0,664.6 645.0,664.6 646.0,666.1 647.0,666.1 648.0,666.1 649.0,667.6 650.0,667.6 651.0,667.6 652.0,667.6 653.0,669.1 654.0,667.6 655.0,669.1 656.0,670.6 657.0,670.6 658.0,669.1 659.0,670.6 660.0,670.6 661.0,670.6 662.0,672.1 663.0,673.5 664.0,673.5 665.0,673.5 666.0,673.5 667.0,673.5 668.0,675.0 669.0,675.0 670.0,675.0 671.0,675.0 672.0,676.5 673.0,676.5 674.0,676.5 675.0,678.0 676.0,678.0 677.0,678.0 678.0,679.5 679.0,678.0 680.0,679.5 681.0,679.5 682.0,679.5 683.0,679.5 684.0,681.0 685.0,681.0 686.0,682.4 687.0,679.5 688.0,681.0 689.0,681.0 690.0,682.4 691.0,682.4 692.0,683.9 693.0,682.4 694.0,682.4 695.0,685.4 696.0,683.9 697.0,683.9 698.0,685.4 699.0,686.9 700.0,685.4 701.0,686.9 702.0,686.9 703.0,686.9 704.0,686.9 705.0,686.9 706.0,686.9 707.0,686.9 708.0,686.9 709.0,688.4 710.0,688.4 711.0,689.9 712.0,689.9 713.0,689.9 714.0,689.9 715.0,689.9 716.0,691.3 717.0,691.3 718.0,691.3 719.0,691.3 720.0,691.3 721.0,691.3 722.0,692.8 723.0,691.3 724.0,692.8 725.0,692.8 726.0,692.8 727.0,692.8 728.0,695.8 729.0,694.3 730.0,694.3 731.0,695.8 732.0,694.3 733.0,694.3 734.0,695.8 735.0,695.8 736.0,695.8 737.0,695.8 738.0,695.8 739.0,695.8 740.0,697.3 741.0,697.3 742.0,697.3 743.0,695.8 744.0,697.3 745.0,697.3 746.0,698.7 747.0,697.3 748.0,698.7 749.0,698.7 750.0,698.7 751.0,698.7 752.0,698.7 753.0,698.7 754.0,698.7 755.0,697.3 756.0,700.2 757.0,698.7 758.0,700.2 759.0,698.7 760.0,701.7 761.0,700.2 762.0,700.2 763.0,700.2 764.0,698.7 765.0,700.2 766.0,700.2 767.0,700.2 768.0,700.2 769.0,701.7 770.0,701.7 771.0,701.7 772.0,701.7 773.0,701.7 774.0,703.2 775.0,701.7 776.0,701.7 777.0,703.2 778.0,703.2 779.0,701.7 780.0,703.2 781.0,703.2 782.0,703.2 783.0,703.2 784.0,703.2 785.0,703.2 786.0,701.7 787.0,701.7 788.0,703.2 789.0,703.2 790.0,703.2 791.0,703.2 792.0,704.7 793.0,703.2 794.0,704.7 795.0,704.7 796.0,703.2 797.0,703.2 798.0,704.7 799.0,704.7 800.0,703.2 801.0,704.7 802.0,703.2 803.0,703.2 804.0,703.2 805.0,704.7 806.0,703.2 807.0,704.7 808.0,703.2 809.0,704.7 810.0,704.7 811.0,704.7 812.0,703.2 813.0,703.2 814.0,704.7 815.0,704.7 816.0,704.7 817.0,703.2 818.0,704.7 819.0,704.7 820.0,704.7 821.0,704.7 822.0,704.7 823.0,703.2 824.0,704.7 825.0,703.2 826.0,703.2 827.0,703.2 828.0,703.2 829.0,704.7 830.0,703.2 831.0,703.2 832.0,703.2 833.0,703.2 834.0,703.2 835.0,703.2 836.0,703.2 837.0,703.2 838.0,703.2 839.0,703.2 840.0,703.2 841.0,701.7 842.0,701.7 843.0,703.2 844.0,701.7 845.0,700.2 846.0,703.2 847.0,701.7 848.0,701.7 849.0,701.7 850.0,701.7 851.0,701.7 852.0,701.7 853.0,701.7 854.0,700.2 855.0,701.7 856.0,701.7 857.0,700.2 858.0,701.7 859.0,701.7 860.0,700.2 861.0,700.2 862.0,700.2 863.0,698.7 864.0,700.2 865.0,698.7 866.0,698.7 867.0,700.2 868.0,698.7 869.0,698.7 870.0,698.7 871.0,698.7 872.0,697.3 873.0,698.7 874.0,697.3 875.0,697.3 876.0,697.3 877.0,697.3 878.0,697.3 879.0,695.8 880.0,695.8 881.0,695.8 882.0,697.3 883.0,695.8 884.0,695.8 885.0,697.3 886.0,694.3 887.0,694.3 888.0,695.8 889.0,694.3 890.0,694.3 891.0,694.3 892.0,694.3 893.0,694.3 894.0,694.3 895.0,692.8 896.0,692.8 897.0,692.8 898.0,692.8 899.0,692.8 900.0,691.3 901.0,691.3 902.0,691.3 903.0,691.3 904.0,689.9 905.0,691.3 906.0,691.3 907.0,689.9 908.0,689.9 909.0,689.9 910.0,689.9 911.0,688.4 912.0,688.4 913.0,689.9 914.0,688.4 915.0,688.4 916.0,686.9 917.0,686.9 918.0,686.9 919.0,686.9 920.0,685.4 921.0,685.4 922.0,685.4 923.0,685.4 924.0,685.4 925.0,685.4 926.0,683.9 927.0,683.9 928.0,683.9 929.0,683.9 930.0,682.4 931.0,683.9 932.0,682.4 933.0,682.4 934.0,682.4 935.0,682.4 936.0,682.4 937.0,681.0 938.0,681.0 939.0,681.0 940.0,679.5 941.0,679.5 942.0,679.5 943.0,678.0 944.0,679.5 945.0,678.0 946.0,678.0 947.0,676.5 948.0,678.0 949.0,676.5 950.0,676.5 951.0,676.5 952.0,675.0 953.0,676.5 954.0,673.5 955.0,675.0 956.0,675.0 957.0,673.5 958.0,673.5 959.0,673.5 960.0,673.5 961.0,672.1 962.0,672.1 963.0,672.1 964.0,670.6 965.0,670.6 966.0,670.6 967.0,669.1 968.0,669.1 969.0,669.1 970.0,670.6 971.0,669.1 972.0,670.6 973.0,667.6 974.0,667.6 975.0,666.1 976.0,666.1 977.0,666.1 978.0,666.1 979.0,666.1 980.0,666.1 981.0,666.1 982.0,664.6 983.0,664.6 984.0,663.2 985.0,663.2 986.0,663.2 987.0,663.2 988.0,663.2 989.0,661.7 990.0,661.7 991.0,661.7 992.0,660.2 993.0,660.2 994.0,660.2 995.0,658.7 996.0,658.7 997.0,660.2 998.0,657.2 999.0,657.2 1000.0,657.2 1001.0,657.2 1002.0,657.2 1003.0,657.2 1004.0,655.8 1005.0,655.8 1006.0,655.8 1007.0,654.3 1008.0,654.3 1009.0,654.3 1010.0,654.3 1011.0,652.8 1012.0,654.3 1013.0,652.8 1014.0,651.3 1015.0,651.3 1016.0,651.3 1017.0,651.3 1018.0,649.8 1019.0,649.8 1020.0,649.8 1021.0,648.3 1022.0,648.3 1023.0,648.3 1024.0,648.3 1025.0,648.3 1026.0,646.9 1027.0,646.9 1028.0,645.4 1029.0,645.4 1030.0,646.9 1031.0,645.4 1032.0,645.4 1033.0,645.4 1034.0,643.9 1035.0,643.9 1036.0,643.9 1037.0,642.4 1038.0,643.9 1039.0,642.4 1040.0,642.4 1041.0,642.4 1042.0,640.9 1043.0,640.9 1044.0,639.4 1045.0,639.4 1046.0,639.4 1047.0,639.4 1048.0,638.0 1049.0,638.0 1050.0,638.0 1051.0,636.5 1052.0,638.0 1053.0,638.0 1054.0,635.0 1055.0,635.0 1056.0,636.5 1057.0,635.0 1058.0,635.0 1059.0,635.0 1060.0,633.5 1061.0,635.0 1062.0,635.0 1063.0,633.5 1064.0,632.0 1065.0,633.5 1066.0,633.5 1067.0,632.0 1068.0,633.5 1069.0,632.0 1070.0,630.5 1071.0,630.5 1072.0,630.5 1073.0,630.5 1074.0,630.5 1075.0,629.1 1076.0,629.1 1077.0,629.1 1078.0,627.6 1079.0,627.6 1080.0,626.1 1081.0,627.6 1082.0,627.6 1083.0,627.6 1084.0,624.6 1085.0,626.1 1086.0,626.1 1087.0,624.6 1088.0,626.1 1089.0,624.6 1090.0,624.6 1091.0,624.6 1092.0,623.1 1093.0,623.1 1094.0,624.6 1095.0,623.1 1096.0,623.1 1097.0,621.6 1098.0,621.6 1099.0,621.6 1100.0,621.6 1101.0,620.2 1102.0,621.6 1103.0,620.2 1104.0,620.2 1105.0,620.2 1106.0,618.7 1107.0,618.7 1108.0,618.7 1109.0,620.2 1110.0,618.7 1111.0,618.7 1112.0,617.2 1113.0,617.2 1114.0,617.2 1115.0,617.2 1116.0,617.2 1117.0,617.2 1118.0,617.2 1119.0,615.7 1120.0,615.7 1121.0,615.7 1122.0,615.7 1123.0,615.7 1124.0,615.7 1125.0,615.7 1126.0,615.7 1127.0,614.2 1128.0,614.2 1129.0,614.2 1130.0,614.2 1131.0,614.2 1132.0,614.2 1133.0,612.8 1134.0,612.8 1135.0,614.2 1136.0,612.8 1137.0,612.8 1138.0,611.3 1139.0,612.8 1140.0,611.3 1141.0,612.8 1142.0,611.3 1143.0,609.8 1144.0,612.8 1145.0,611.3 1146.0,611.3 1147.0,611.3 1148.0,611.3 1149.0,609.8 1150.0,611.3 1151.0,611.3 1152.0,609.8 1153.0,611.3 1154.0,609.8 1155.0,609.8 1156.0,609.8 1157.0,608.3 1158.0,609.8 1159.0,609.8 1160.0,609.8 1161.0,608.3 1162.0,608.3 1163.0,609.8 1164.0,608.3 1165.0,608.3 1166.0,608.3 1167.0,609.8 1168.0,608.3 1169.0,608.3 1170.0,608.3 1171.0,608.3 1172.0,609.8 1173.0,608.3 1174.0,608.3 1175.0,606.8 1176.0,608.3 1177.0,608.3 1178.0,608.3 1179.0,606.8 1180.0,608.3 1181.0,606.8 1182.0,608.3 1183.0,606.8 1184.0,608.3 1185.0,606.8 1186.0,608.3 1187.0,608.3 1188.0,606.8 1189.0,606.8 1190.0,608.3 1191.0,606.8 1192.0,606.8 1193.0,608.3 1194.0,606.8 1195.0,606.8 1196.0,606.8 1197.0,606.8 1198.0,608.3 1199.0,606.8 1200.0,606.8 1201.0,606.8 1202.0,606.8 1203.0,606.8 1204.0,608.3 1205.0,608.3 1206.0,608.3 1207.0,608.3 1208.0,608.3 1209.0,608.3 1210.0,606.8 1211.0,608.3 1212.0,606.8 1213.0,608.3 1214.0,608.3 1215.0,606.8 1216.0,608.3 1217.0,608.3 1218.0,608.3 1219.0,608.3 1220.0,609.8 1221.0,608.3 1222.0,608.3 1223.0,608.3 1224.0,608.3 1225.0,608.3 1226.0,608.3 1227.0,608.3 1228.0,608.3 1229.0,609.8 1230.0,609.8 1231.0,609.8 1232.0,609.8 1233.0,609.8 1234.0,611.3 1235.0,609.8 1236.0,609.8 1237.0,611.3 1238.0,609.8 1239.0,609.8 1240.0,611.3 1241.0,609.8 1242.0,612.8 1243.0,611.3 1244.0,612.8 1245.0,611.3 1246.0,609.8 1247.0,612.8 1248.0,611.3 1249.0,611.3 1250.0,612.8 1251.0,612.8 1252.0,614.2 1253.0,612.8 1254.0,612.8 1255.0,612.8 1256.0,614.2 1257.0,612.8 1258.0,614.2 1259.0,614.2 1260.0,614.2 1261.0,615.7 1262.0,614.2 1263.0,614.2 1264.0,614.2 1265.0,615.7 1266.0,615.7 1267.0,615.7 1268.0,615.7 1269.0,615.7 1270.0,615.7 1271.0,617.2 1272.0,617.2 1273.0,615.7 1274.0,615.7 1275.0,617.2 1276.0,617.2 1277.0,618.7 1278.0,618.7 1279.0,617.2 1280.0,618.7 1281.0,620.2 1282.0,620.2 1283.0,618.7 1284.0,618.7 1285.0,620.2 1286.0,620.2 1287.0,620.2 1288.0,621.6 1289.0,620.2 1290.0,621.6 1291.0,621.6 1292.0,621.6 1293.0,623.1 1294.0,621.6 1295.0,623.1 1296.0,623.1 1297.0,623.1 1298.0,624.6 1299.0,624.6 1300.0,626.1 1301.0,624.6 1302.0,624.6 1303.0,624.6 1304.0,626.1 1305.0,626.1 1306.0,626.1 1307.0,627.6 1308.0,627.6 1309.0,629.1 1310.0,627.6 1311.0,627.6 1312.0,627.6 1313.0,629.1 1314.0,629.1 1315.0,629.1 1316.0,629.1 1317.0,629.1 1318.0,629.1 1319.0,630.5 1320.0,630.5 1321.0,632.0 1322.0,632.0 1323.0,632.0 1324.0,632.0 1325.0,632.0 1326.0,632.0 1327.0,633.5 1328.0,633.5 1329.0,633.5 1330.0,633.5 1331.0,633.5 1332.0,635.0 1333.0,635.0 1334.0,635.0 1335.0,635.0 1336.0,636.5 1337.0,638.0 1338.0,638.0 1339.0,638.0 1340.0,638.0 1341.0,638.0 1342.0,639.4 1343.0,639.4 1344.0,638.0 1345.0,639.4 1346.0,639.4 1347.0,640.9 1348.0,640.9 1349.0,640.9 1350.0,640.9 1351.0,640.9 1352.0,642.4 1353.0,642.4 1354.0,643.9 1355.0,643.9 1356.0,643.9 1357.0,645.4 1358.0,645.4 1359.0,645.4 1360.0,645.4 1361.0,645.4 1362.0,645.4 1363.0,645.4 1364.0,646.9 1365.0,646.9 1366.0,648.3 1367.0,646.9 1368.0,648.3 1369.0,648.3 1370.0,649.8 1371.0,649.8 1372.0,651.3 1373.0,649.8 1374.0,651.3 1375.0,651.3 1376.0,651.3 1377.0,652.8 1378.0,651.3 1379.0,652.8 1380.0,654.3 1381.0,654.3 1382.0,654.3 1383.0,655.8 1384.0,655.8 1385.0,655.8 1386.0,655.8 1387.0,655.8 1388.0,655.8 1389.0,657.2 1390.0,657.2 1391.0,657.2 1392.0,658.7 1393.0,658.7 1394.0,658.7 1395.0,658.7 1396.0,661.7 1397.0,660.2 1398.0,661.7 1399.0,660.2 1400.0,661.7 1401.0,661.7 1402.0,660.2 1403.0,663.2 1404.0,663.2 1405.0,664.6 1406.0,664.6 1407.0,664.6 1408.0,664.6 1409.0,664.6 1410.0,666.1 1411.0,666.1 1412.0,666.1 1413.0,666.1 1414.0,667.6 1415.0,667.6 1416.0,666.1 1417.0,666.1 1418.0,667.6 1419.0,669.1 1420.0,669.1 1421.0,667.6 1422.0,669.1 1423.0,670.6 1424.0,670.6 1425.0,670.6 1426.0,670.6 1427.0,672.1 1428.0,672.1 1429.0,672.1 1430.0,673.5 1431.0,672.1 1432.0,673.5 1433.0,675.0 1434.0,673.5 1435.0,673.5 1436.0,676.5 1437.0,673.5 1438.0,675.0 1439.0,675.0 1440.0,676.5 1441.0,676.5 1442.0,676.5 1443.0,678.0 1444.0,678.0 1445.0,678.0 1446.0,679.5 1447.0,679.5 1448.0,679.5 1449.0,679.5 1450.0,679.5 1451.0,679.5 1452.0,681.0 1453.0,681.0 1454.0,681.0 1455.0,682.4 1456.0,681.0 1457.0,682.4 1458.0,682.4 1459.0,682.4 1460.0,682.4 1461.0,683.9 1462.0,683.9 1463.0,683.9 1464.0,683.9 1465.0,683.9 1466.0,685.4 1467.0,685.4 1468.0,685.4 1469.0,686.9 1470.0,685.4 1471.0,686.9 1472.0,686.9 1473.0,688.4 1474.0,688.4 1475.0,688.4 1476.0,688.4 1477.0,688.4 1478.0,688.4 1479.0,688.4 1480.0,689.9 1481.0,689.9 1482.0,691.3 1483.0,689.9 1484.0,689.9 1485.0,691.3 1486.0,691.3 1487.0,691.3 1488.0,691.3 1489.0,692.8 1490.0,691.3 1491.0,692.8 1492.0,691.3 1493.0,692.8 1494.0,692.8 1495.0,692.8 1496.0,694.3 1497.0,692.8 1498.0,692.8 1499.0,692.8 1500.0,694.3 1501.0,695.8 1502.0,695.8 1503.0,695.8 1504.0,695.8 1505.0,695.8 1506.0,695.8 1507.0,695.8 1508.0,695.8 1509.0,695.8 1510.0,697.3 1511.0,697.3 1512.0,697.3 1513.0,697.3 1514.0,697.3 1515.0,698.7 1516.0,697.3 1517.0,698.7 1518.0,697.3 1519.0,700.2 1520.0,698.7 1521.0,698.7 1522.0,700.2 1523.0,700.2 1524.0,698.7 1525.0,698.7 1526.0,698.7 1527.0,700.2 1528.0,700.2 1529.0,700.2 1530.0,700.2 1531.0,700.2 1532.0,701.7 1533.0,700.2 1534.0,700.2 1535.0,700.2 1536.0,701.7 1537.0,701.7 1538.0,701.7 1539.0,701.7 1540.0,703.2 1541.0,701.7 1542.0,701.7 1543.0,701.7 1544.0,701.7 1545.0,703.2 1546.0,703.2 1547.0,703.2 1548.0,701.7 1549.0,701.7 1550.0,703.2 1551.0,701.7 1552.0,701.7 1553.0,703.2 1554.0,703.2 1555.0,701.7 1556.0,703.2 1557.0,703.2 1558.0,704.7 1559.0,703.2 1560.0,703.2 1561.0,703.2 1562.0,703.2 1563.0,703.2 1564.0,703.2 1565.0,704.7 1566.0,703.2 1567.0,704.7 1568.0,704.7 1569.0,704.7 1570.0,704.7 1571.0,703.2 1572.0,703.2 1573.0,704.7 1574.0,703.2 1575.0,703.2 1576.0,704.7 1577.0,704.7 1578.0,704.7 1579.0,704.7 1580.0,704.7 1581.0,704.7 1582.0,704.7 1583.0,704.7 1584.0,704.7 1585.0,703.2 1586.0,704.7 1587.0,704.7 1588.0,704.7 1589.0,704.7 1590.0,703.2 1591.0,703.2 1592.0,703.2 1593.0,703.2 1594.0,704.7 1595.0,704.7 1596.0,704.7 1597.0,704.7 1598.0,703.2 1599.0,704.7 1600.0,703.2 1601.0,704.7 1602.0,704.7 1603.0,703.2 1604.0,701.7 1605.0,703.2 1606.0,703.2 1607.0,704.7 1608.0,703.2 1609.0,701.7 1610.0,703.2 1611.0,701.7 1612.0,701.7 1613.0,701.7 1614.0,703.2 1615.0,701.7 1616.0,701.7 1617.0,703.2 1618.0,701.7 1619.0,703.2 1620.0,701.7 1621.0,701.7 1622.0,701.7 1623.0,701.7 1624.0,700.2 1625.0,700.2 1626.0,700.2 1627.0,701.7 1628.0,700.2 1629.0,698.7 1630.0,698.7 1631.0,700.2 1632.0,700.2 1633.0,700.2 1634.0,698.7 1635.0,698.7 1636.0,698.7 1637.0,700.2 1638.0,698.7 1639.0,698.7 1640.0,697.3 1641.0,697.3 1642.0,697.3 1643.0,697.3 1644.0,697.3 1645.0,697.3 1646.0,695.8 1647.0,697.3 1648.0,695.8 1649.0,695.8 1650.0,695.8 1651.0,695.8 1652.0,697.3 1653.0,695.8 1654.0,695.8 1655.0,694.3 1656.0,692.8 1657.0,695.8 1658.0,694.3 1659.0,694.3 1660.0,694.3 1661.0,694.3 1662.0,692.8 1663.0,694.3 1664.0,692.8 1665.0,692.8 1666.0,692.8 1667.0,691.3 1668.0,692.8 1669.0,692.8 1670.0,691.3 1671.0,691.3 1672.0,691.3 1673.0,689.9 1674.0,689.9 1675.0,689.9 1676.0,689.9 1677.0,689.9 1678.0,688.4 1679.0,689.9 1680.0,688.4 1681.0,688.4 1682.0,688.4 1683.0,686.9 1684.0,688.4 1685.0,686.9 1686.0,686.9 1687.0,685.4 1688.0,686.9 1689.0,685.4 1690.0,685.4 1691.0,685.4 1692.0,685.4 1693.0,683.9 1694.0,683.9 1695.0,683.9 1696.0,683.9 1697.0,683.9 1698.0,682.4 1699.0,682.4 1700.0,681.0 1701.0,682.4 1702.0,681.0 1703.0,681.0 1704.0,682.4 1705.0,681.0 1706.0,679.5 1707.0,681.0 1708.0,681.0 1709.0,679.5 1710.0,681.0 1711.0,678.0 1712.0,679.5 1713.0,678.0 1714.0,676.5 1715.0,678.0 1716.0,678.0 1717.0,678.0 1718.0,676.5 1719.0,676.5 1720.0,676.5 1721.0,675.0 1722.0,675.0 1723.0,675.0 1724.0,673.5 1725.0,673.5 1726.0,673.5 1727.0,673.5 1728.0,672.1 1729.0,673.5 1730.0,672.1 1731.0,670.6 1732.0,670.6 1733.0,672.1 1734.0,670.6 1735.0,670.6 1736.0,670.6 1737.0,669.1 1738.0,669.1 1739.0,669.1 1740.0,667.6 1741.0,669.1 1742.0,667.6 1743.0,666.1 1744.0,666.1 1745.0,667.6 1746.0,667.6 1747.0,666.1 1748.0,663.2 1749.0,666.1 1750.0,664.6 1751.0,663.2 1752.0,663.2 1753.0,663.2 1754.0,663.2 1755.0,663.2 1756.0,661.7 1757.0,661.7 1758.0,660.2 1759.0,661.7 1760.0,660.2 1761.0,660.2 1762.0,658.7 1763.0,660.2 1764.0,658.7 1765.0,658.7 1766.0,658.7 1767.0,657.2 1768.0,657.2 1769.0,657.2 1770.0,657.2 1771.0,657.2" stroke="#00b240"/></g><rect x="1310" y="54" width="421" height="293" fill="#fff"/><g fill="#000"><rect x="1309" y="53" width="423" height="2"/><rect x="1309" y="346" width="423" height="2"/><rect x="1309" y="53" width="3" height="295"/><rect x="1729" y="53" width="3" height="295"/></g><line x1="1319.5" y1="105.5" x2="1491.5" y2="105.5" stroke="#ff141a" stroke-width="7" stroke-linecap="round"/><line x1="1319.5" y1="200.5" x2="1491.5" y2="200.5" stroke="#007dbc" stroke-width="7" stroke-linecap="round"/><line x1="1319.5" y1="295.5" x2="1491.5" y2="295.5" stroke="#00b240" stroke-width="7" stroke-linecap="round"/><text transform="matrix(1.0154,0.0000,0.0000,1.0277,140.9385,177.2000)" font-size="72">50</text><text transform="matrix(1.0015,0.0000,0.0000,1.0234,141.8955,424.8000)" font-size="72">25</text><text transform="matrix(1.0100,0.0000,0.0000,1.0362,177.6700,672.7000)" font-size="72">0</text><text transform="matrix(0.9528,0.0000,0.0000,1.0213,106.1887,918.9000)" font-size="72">−25</text><text transform="matrix(0.9509,0.0000,0.0000,1.0255,106.1962,1165.2000)" font-size="72">−50</text><text transform="matrix(0.9800,0.0000,0.0000,1.0255,191.6600,1356.0000)" font-size="72">0.00</text><text transform="matrix(0.9622,0.0000,0.0000,1.0255,574.8134,1356.0000)" font-size="72">0.01</text><text transform="matrix(0.9975,0.0000,0.0000,1.0255,956.6076,1356.0000)" font-size="72">0.02</text><text transform="matrix(0.9800,0.0000,0.0000,1.0255,1340.6600,1356.0000)" font-size="72">0.03</text><text transform="matrix(0.9689,0.0000,0.0000,1.0255,1722.8934,1356.0000)" font-size="72">0.04</text><text transform="matrix(1.1903,0.0000,0.0000,1.0222,1506.8097,129.9000)" font-size="66">h</text><text transform="matrix(0.9710,0.0000,0.0000,0.7875,1542.9871,127.6250)" font-size="66">=</text><text transform="matrix(0.9986,0.0000,0.0000,1.0209,1574.9085,129.9000)" font-size="66">1.967</text><text transform="matrix(1.1903,0.0000,0.0000,1.0178,1506.8097,224.9000)" font-size="66">h</text><text transform="matrix(0.9710,0.0000,0.0000,0.7875,1542.9871,222.8250)" font-size="66">=</text><text transform="matrix(0.9908,0.0000,0.0000,1.0163,1574.9553,224.9000)" font-size="66">1.786</text><text transform="matrix(1.1903,0.0000,0.0000,1.0178,1506.8097,319.9000)" font-size="66">h</text><text transform="matrix(0.9710,0.0000,0.0000,0.7875,1542.9871,317.8250)" font-size="66">=</text><text transform="matrix(0.9908,0.0000,0.0000,1.0163,1574.9553,319.9000)" font-size="66">1.614</text><text transform="matrix(1.0237,0.0000,0.0000,0.9635,852.1763,1467.8000)" font-size="74" font-weight="bold">Time</text><text transform="matrix(1.3211,0.0000,0.0000,1.0810,1035.8368,1468.3000)" font-size="74" font-style="italic">t</text><text transform="matrix(0.9105,0.0000,0.0000,0.8864,1082.0684,1462.2045)" font-size="74" font-weight="bold">(</text><text transform="matrix(1.0400,0.0000,0.0000,1.0000,1105.8200,1468.3000)" font-size="74" font-weight="bold">s</text><text transform="matrix(0.9000,0.0000,0.0000,0.8788,1136.1000,1461.8182)" font-size="74" font-weight="bold">)</text><text transform="matrix(0.0000,-0.9570,1.0000,0.0000,85.0000,1116.9570)" font-size="74" font-weight="bold">Electric</text><text transform="matrix(0.0000,-1.0075,1.0000,0.0000,85.0000,862.2075)" font-size="74" font-weight="bold">Field</text><text transform="matrix(0.0000,-1.0246,1.0000,0.0000,85.0000,681.7739)" font-size="74" font-weight="bold">Intensity</text><text transform="matrix(0.0000,-0.8957,0.9796,0.0000,84.9000,377.0000)" font-size="74" font-weight="bold" font-style="italic">E</text><text transform="matrix(0.0000,-0.9053,0.8985,0.0000,79.6227,316.7158)" font-size="74" font-weight="bold">(</text><text transform="matrix(0.0000,-1.0167,1.0000,0.0000,85.0000,293.8333)" font-size="74" font-weight="bold">kV/m</text><text transform="matrix(0.0000,-0.9053,0.8833,0.0000,78.8500,113.9105)" font-size="74" font-weight="bold">)</text></svg></body></html>
